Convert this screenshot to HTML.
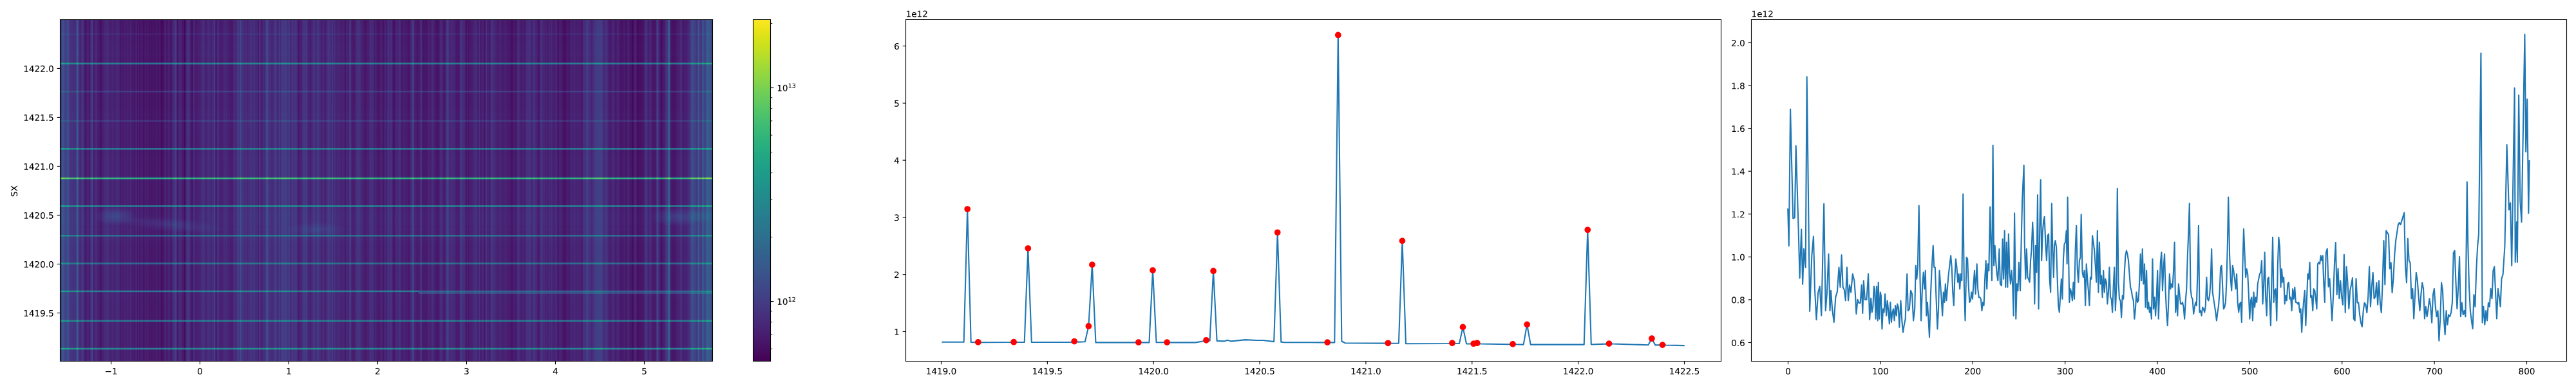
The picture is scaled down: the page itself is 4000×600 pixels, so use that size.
<!DOCTYPE html>
<html><head><meta charset="utf-8"><title>figure</title>
<style>
html,body{margin:0;padding:0;background:#fff}
#fig{position:relative;width:4000px;height:600px;overflow:hidden;background:#fff}
.hm{position:absolute;left:93px;top:30px;width:1014px;height:532px;filter:url(#vir);isolation:isolate;overflow:hidden}
.hm div{position:absolute;left:0;top:0;width:100%;height:100%}
.hm .r{mix-blend-mode:plus-lighter}
svg g[id^=text_] path{stroke:#000;stroke-width:0.06px;vector-effect:non-scaling-stroke}
.cb{position:absolute;left:1169px;top:30px;width:28px;height:532px;filter:url(#vir);background:linear-gradient(to top,#000,#fff)}
</style></head><body>
<svg width="0" height="0" style="position:absolute"><filter id="vir" color-interpolation-filters="sRGB" x="0" y="0" width="1" height="1"><feComponentTransfer>
<feFuncR type="table" tableValues="0.267 0.2685 0.2699 0.2713 0.2726 0.2738 0.275 0.276 0.277 0.2779 0.2788 0.2796 0.2803 0.2809 0.2814 0.2819 0.2823 0.2827 0.2829 0.2831 0.2832 0.2832 0.2832 0.2831 0.2829 0.2826 0.2823 0.2819 0.2814 0.2809 0.2803 0.2796 0.2788 0.278 0.2771 0.2762 0.2752 0.2741 0.273 0.2718 0.2706 0.2693 0.268 0.2666 0.2651 0.2637 0.2621 0.2606 0.259 0.2573 0.2556 0.2539 0.2522 0.2504 0.2486 0.2468 0.245 0.2431 0.2412 0.2393 0.2374 0.2355 0.2336 0.2317 0.2297 0.2278 0.2259 0.2239 0.222 0.2201 0.2181 0.2162 0.2143 0.2124 0.2105 0.2086 0.2068 0.2049 0.2031 0.2012 0.1994 0.1976 0.1959 0.1941 0.1924 0.1906 0.1889 0.1872 0.1856 0.1839 0.1823 0.1806 0.179 0.1774 0.1758 0.1743 0.1727 0.1712 0.1696 0.1681 0.1666 0.1651 0.1636 0.1621 0.1607 0.1592 0.1577 0.1563 0.1548 0.1534 0.1519 0.1505 0.149 0.1476 0.1462 0.1448 0.1433 0.1419 0.1405 0.1391 0.1378 0.1364 0.1351 0.1337 0.1324 0.1312 0.1299 0.1287 0.1276 0.1265 0.1254 0.1244 0.1235 0.1226 0.1218 0.1211 0.1206 0.1201 0.1197 0.1195 0.1194 0.1195 0.1197 0.1201 0.1206 0.1214 0.1223 0.1234 0.1248 0.1263 0.1281 0.1301 0.1323 0.1347 0.1373 0.1402 0.1433 0.1466 0.1501 0.1539 0.1579 0.162 0.1664 0.1709 0.1757 0.1807 0.1858 0.1911 0.1966 0.2022 0.208 0.214 0.2201 0.2264 0.2328 0.2394 0.2461 0.2529 0.2599 0.2669 0.2741 0.2815 0.2889 0.2965 0.3041 0.3119 0.3198 0.3278 0.3359 0.3441 0.3524 0.3607 0.3692 0.3778 0.3864 0.3952 0.404 0.4129 0.4219 0.431 0.4401 0.4494 0.4587 0.4681 0.4775 0.487 0.4966 0.5063 0.516 0.5258 0.5356 0.5455 0.5555 0.5655 0.5756 0.5857 0.5958 0.606 0.6163 0.6266 0.6369 0.6473 0.6576 0.6681 0.6785 0.6889 0.6994 0.7099 0.7204 0.7309 0.7414 0.7519 0.7624 0.7729 0.7833 0.7938 0.8042 0.8146 0.8249 0.8353 0.8456 0.8558 0.866 0.8762 0.8863 0.8963 0.9063 0.9162 0.9261 0.9359 0.9456 0.9553 0.9649 0.9744 0.9839 0.9932"/>
<feFuncG type="table" tableValues="0.004874 0.009605 0.01463 0.01994 0.02556 0.0315 0.03775 0.04417 0.05034 0.05632 0.06214 0.06784 0.07342 0.07891 0.08432 0.08967 0.09495 0.1002 0.1054 0.1106 0.1157 0.1208 0.1258 0.1309 0.1359 0.1409 0.1459 0.1509 0.1558 0.1608 0.1657 0.1706 0.1755 0.1804 0.1852 0.1901 0.1949 0.1997 0.2045 0.2093 0.2141 0.2188 0.2235 0.2283 0.233 0.2376 0.2423 0.2469 0.2515 0.2561 0.2607 0.2653 0.2698 0.2743 0.2788 0.2832 0.2877 0.2921 0.2965 0.3009 0.3052 0.3095 0.3138 0.3181 0.3224 0.3266 0.3308 0.335 0.3392 0.3433 0.3474 0.3515 0.3556 0.3597 0.3637 0.3678 0.3718 0.3757 0.3797 0.3837 0.3876 0.3915 0.3954 0.3993 0.4032 0.4071 0.4109 0.4147 0.4186 0.4224 0.4262 0.43 0.4338 0.4375 0.4413 0.445 0.4488 0.4525 0.4563 0.46 0.4637 0.4674 0.4711 0.4748 0.4785 0.4822 0.4859 0.4896 0.4933 0.497 0.5007 0.5044 0.5081 0.5117 0.5154 0.5191 0.5228 0.5265 0.5301 0.5338 0.5375 0.5412 0.5449 0.5485 0.5522 0.5559 0.5596 0.5633 0.5669 0.5706 0.5743 0.578 0.5817 0.5854 0.5891 0.5927 0.5964 0.6001 0.6038 0.6075 0.6111 0.6148 0.6185 0.6222 0.6258 0.6295 0.6332 0.6368 0.6405 0.6441 0.6477 0.6514 0.655 0.6586 0.6623 0.6659 0.6695 0.6731 0.6766 0.6802 0.6838 0.6873 0.6909 0.6944 0.6979 0.7014 0.7049 0.7084 0.7118 0.7153 0.7187 0.7221 0.7255 0.7289 0.7322 0.7356 0.7389 0.7422 0.7455 0.7488 0.752 0.7552 0.7584 0.7616 0.7647 0.7678 0.7709 0.774 0.777 0.78 0.783 0.786 0.7889 0.7918 0.7946 0.7975 0.8003 0.803 0.8058 0.8085 0.8111 0.8138 0.8164 0.8189 0.8214 0.8239 0.8264 0.8288 0.8312 0.8335 0.8358 0.838 0.8403 0.8424 0.8446 0.8467 0.8487 0.8507 0.8527 0.8546 0.8565 0.8584 0.8602 0.862 0.8637 0.8654 0.8671 0.8688 0.8703 0.8719 0.8734 0.875 0.8764 0.8779 0.8793 0.8807 0.882 0.8834 0.8847 0.886 0.8873 0.8886 0.8899 0.8911 0.8924 0.8936 0.8949 0.8961 0.8973 0.8986 0.8998 0.9011 0.9023 0.9036 0.9049 0.9062"/>
<feFuncB type="table" tableValues="0.3294 0.3354 0.3414 0.3473 0.3531 0.3589 0.3645 0.3702 0.3757 0.3812 0.3866 0.3919 0.3972 0.4023 0.4074 0.4124 0.4173 0.4222 0.4269 0.4316 0.4361 0.4406 0.445 0.4492 0.4534 0.4575 0.4615 0.4654 0.4692 0.4729 0.4765 0.48 0.4834 0.4867 0.4899 0.493 0.496 0.4989 0.5017 0.5044 0.5071 0.5096 0.512 0.5143 0.5166 0.5188 0.5208 0.5228 0.5247 0.5266 0.5283 0.53 0.5316 0.5331 0.5346 0.5359 0.5373 0.5385 0.5397 0.5408 0.5419 0.5429 0.5439 0.5448 0.5457 0.5465 0.5473 0.5481 0.5488 0.5494 0.55 0.5506 0.5512 0.5517 0.5522 0.5527 0.5531 0.5535 0.5539 0.5543 0.5546 0.555 0.5553 0.5556 0.5558 0.5561 0.5563 0.5565 0.5568 0.5569 0.5571 0.5573 0.5574 0.5576 0.5577 0.5578 0.5579 0.558 0.558 0.5581 0.5581 0.5581 0.5581 0.5581 0.5581 0.5581 0.558 0.5579 0.5578 0.5577 0.5576 0.5574 0.5573 0.557 0.5568 0.5566 0.5563 0.556 0.5557 0.5553 0.5549 0.5545 0.554 0.5535 0.553 0.5525 0.5519 0.5512 0.5506 0.5498 0.5491 0.5483 0.5474 0.5466 0.5456 0.5446 0.5436 0.5425 0.5414 0.5402 0.539 0.5377 0.5363 0.5349 0.5335 0.532 0.5304 0.5288 0.5271 0.5253 0.5235 0.5216 0.5197 0.5176 0.5156 0.5134 0.5112 0.5089 0.5066 0.5042 0.5017 0.4991 0.4965 0.4938 0.491 0.4882 0.4853 0.4823 0.4792 0.4761 0.4729 0.4696 0.4662 0.4628 0.4593 0.4557 0.452 0.4483 0.4445 0.4406 0.4366 0.4326 0.4284 0.4242 0.4199 0.4156 0.4112 0.4066 0.402 0.3974 0.3926 0.3878 0.3829 0.3779 0.3729 0.3678 0.3626 0.3573 0.3519 0.3465 0.341 0.3354 0.3297 0.324 0.3182 0.3123 0.3064 0.3004 0.2943 0.2881 0.2819 0.2756 0.2693 0.2629 0.2564 0.2499 0.2433 0.2367 0.2301 0.2234 0.2166 0.2099 0.2031 0.1963 0.1895 0.1827 0.176 0.1693 0.1626 0.156 0.1496 0.1432 0.1371 0.1311 0.1254 0.12 0.115 0.1103 0.1062 0.1026 0.0997 0.09745 0.09595 0.09525 0.09537 0.09634 0.09813 0.1007 0.1041 0.1081 0.1128 0.1181 0.1239 0.1302 0.1369 0.1439"/>
</feComponentTransfer></filter></svg>
<div id="fig">
<div class="hm"><div style="background:linear-gradient(90deg,#2d2d2d 0.88px,#2d2d2d 1.38px,#272727 2.14px,#272727 2.64px,#3c3c3c 3.40px,#3c3c3c 3.90px,#414141 4.66px,#414141 5.16px,#393939 5.92px,#393939 6.42px,#303030 7.18px,#303030 7.68px,#2c2c2c 8.44px,#2c2c2c 8.94px,#2c2c2c 9.70px,#2c2c2c 10.20px,#373737 10.96px,#373737 11.46px,#3a3a3a 12.22px,#3a3a3a 12.72px,#333333 13.48px,#333333 13.98px,#2b2b2b 14.74px,#2b2b2b 15.24px,#212121 16.00px,#212121 16.50px,#1d1d1d 17.26px,#1d1d1d 17.76px,#262626 18.52px,#262626 19.02px,#222222 19.78px,#222222 20.28px,#191919 21.04px,#191919 21.54px,#222222 22.30px,#222222 22.80px,#202020 23.56px,#202020 24.06px,#1f1f1f 24.82px,#1f1f1f 25.32px,#424242 26.08px,#424242 26.58px,#424242 27.34px,#424242 27.84px,#313131 28.60px,#313131 29.10px,#1a1a1a 29.86px,#1a1a1a 30.36px,#121212 31.12px,#121212 31.62px,#1b1b1b 32.38px,#1b1b1b 32.88px,#222222 33.64px,#222222 34.14px,#252525 34.90px,#252525 35.40px,#222222 36.16px,#222222 36.66px,#151515 37.42px,#151515 37.92px,#0e0e0e 38.68px,#0e0e0e 39.18px,#0b0b0b 39.94px,#0b0b0b 40.44px,#111111 41.20px,#111111 41.70px,#151515 42.46px,#151515 42.96px,#161616 43.72px,#161616 44.22px,#121212 44.98px,#121212 45.48px,#0b0b0b 46.24px,#0b0b0b 46.74px,#191919 47.50px,#191919 48.00px,#262626 48.76px,#262626 49.26px,#2e2e2e 50.02px,#2e2e2e 50.52px,#1b1b1b 51.28px,#1b1b1b 51.78px,#0e0e0e 52.54px,#0e0e0e 53.04px,#131313 53.80px,#131313 54.30px,#1b1b1b 55.06px,#1b1b1b 55.56px,#202020 56.32px,#202020 56.82px,#121212 57.58px,#121212 58.08px,#121212 58.84px,#121212 59.34px,#121212 60.10px,#121212 60.60px,#0d0d0d 61.36px,#0d0d0d 61.86px,#0a0a0a 62.62px,#0a0a0a 63.12px,#090909 63.88px,#090909 64.38px,#0f0f0f 65.14px,#0f0f0f 65.64px,#131313 66.40px,#131313 66.90px,#141414 67.66px,#141414 68.16px,#181818 68.92px,#181818 69.42px,#1d1d1d 70.18px,#1d1d1d 70.68px,#191919 71.44px,#191919 71.94px,#1a1a1a 72.70px,#1a1a1a 73.20px,#212121 73.96px,#212121 74.46px,#1a1a1a 75.22px,#1a1a1a 75.72px,#161616 76.47px,#161616 76.98px,#151515 77.73px,#151515 78.24px,#121212 78.99px,#121212 79.50px,#171717 80.25px,#171717 80.76px,#1b1b1b 81.51px,#1b1b1b 82.02px,#131313 82.77px,#131313 83.28px,#141414 84.03px,#141414 84.54px,#161616 85.29px,#161616 85.80px,#141414 86.55px,#141414 87.06px,#181818 87.81px,#181818 88.32px,#1b1b1b 89.07px,#1b1b1b 89.58px,#191919 90.33px,#191919 90.84px,#171717 91.59px,#171717 92.10px,#121212 92.85px,#121212 93.36px,#0c0c0c 94.11px,#0c0c0c 94.62px,#101010 95.37px,#101010 95.88px,#111111 96.63px,#111111 97.14px,#101010 97.89px,#101010 98.40px,#101010 99.15px,#101010 99.66px,#141414 100.41px,#141414 100.92px,#141414 101.67px,#141414 102.18px,#0f0f0f 102.93px,#0f0f0f 103.44px,#181818 104.19px,#181818 104.70px,#131313 105.45px,#131313 105.96px,#111111 106.71px,#111111 107.22px,#111111 107.97px,#111111 108.48px,#161616 109.23px,#161616 109.74px,#1a1a1a 110.49px,#1a1a1a 111.00px,#0d0d0d 111.75px,#0d0d0d 112.26px,#0d0d0d 113.01px,#0d0d0d 113.52px,#111111 114.27px,#111111 114.78px,#0c0c0c 115.53px,#0c0c0c 116.04px,#0f0f0f 116.79px,#0f0f0f 117.30px,#161616 118.05px,#161616 118.56px,#141414 119.31px,#141414 119.82px,#0a0a0a 120.57px,#0a0a0a 121.08px,#161616 121.83px,#161616 122.34px,#090909 123.09px,#090909 123.60px,#161616 124.35px,#161616 124.86px,#0a0a0a 125.61px,#0a0a0a 126.12px,#141414 126.87px,#141414 127.38px,#0f0f0f 128.13px,#0f0f0f 128.64px,#060606 129.39px,#060606 129.90px,#0d0d0d 130.65px,#0d0d0d 131.16px,#0c0c0c 131.91px,#0c0c0c 132.42px,#131313 133.17px,#131313 133.68px,#0e0e0e 134.43px,#0e0e0e 134.94px,#0e0e0e 135.69px,#0e0e0e 136.20px,#0f0f0f 136.95px,#0f0f0f 137.46px,#0b0b0b 138.21px,#0b0b0b 138.72px,#090909 139.47px,#090909 139.98px,#0f0f0f 140.73px,#0f0f0f 141.24px,#080808 141.99px,#080808 142.50px,#0c0c0c 143.25px,#0c0c0c 143.76px,#0d0d0d 144.51px,#0d0d0d 145.02px,#090909 145.77px,#090909 146.28px,#0d0d0d 147.03px,#0d0d0d 147.54px,#0c0c0c 148.29px,#0c0c0c 148.80px,#0e0e0e 149.55px,#0e0e0e 150.06px,#0f0f0f 150.81px,#0f0f0f 151.32px,#0a0a0a 152.07px,#0a0a0a 152.58px,#090909 153.33px,#090909 153.84px,#111111 154.59px,#111111 155.10px,#0b0b0b 155.85px,#0b0b0b 156.36px,#050505 157.11px,#050505 157.62px,#040404 158.37px,#040404 158.88px,#070707 159.63px,#070707 160.14px,#090909 160.89px,#090909 161.40px,#131313 162.15px,#131313 162.66px,#1a1a1a 163.41px,#1a1a1a 163.92px,#0d0d0d 164.67px,#0d0d0d 165.18px,#0d0d0d 165.93px,#0d0d0d 166.44px,#101010 167.19px,#101010 167.70px,#151515 168.45px,#151515 168.96px,#141414 169.71px,#141414 170.22px,#0e0e0e 170.97px,#0e0e0e 171.48px,#090909 172.23px,#090909 172.74px,#0d0d0d 173.49px,#0d0d0d 174.00px,#1a1a1a 174.75px,#1a1a1a 175.26px,#1b1b1b 176.01px,#1b1b1b 176.52px,#1c1c1c 177.27px,#1c1c1c 177.78px,#262626 178.53px,#262626 179.03px,#2b2b2b 179.79px,#2b2b2b 180.29px,#191919 181.05px,#191919 181.55px,#090909 182.31px,#090909 182.81px,#121212 183.57px,#121212 184.07px,#191919 184.83px,#191919 185.33px,#191919 186.09px,#191919 186.59px,#171717 187.35px,#171717 187.85px,#191919 188.61px,#191919 189.11px,#0b0b0b 189.87px,#0b0b0b 190.37px,#101010 191.13px,#101010 191.63px,#090909 192.39px,#090909 192.89px,#010101 193.65px,#010101 194.15px,#0d0d0d 194.91px,#0d0d0d 195.41px,#181818 196.17px,#181818 196.67px,#1f1f1f 197.43px,#1f1f1f 197.93px,#242424 198.69px,#242424 199.19px,#1e1e1e 199.95px,#1e1e1e 200.45px,#1d1d1d 201.21px,#1d1d1d 201.71px,#161616 202.47px,#161616 202.97px,#0c0c0c 203.73px,#0c0c0c 204.23px,#060606 204.99px,#060606 205.49px,#0f0f0f 206.25px,#0f0f0f 206.75px,#1c1c1c 207.51px,#1c1c1c 208.01px,#171717 208.77px,#171717 209.27px,#121212 210.03px,#121212 210.53px,#0c0c0c 211.29px,#0c0c0c 211.79px,#121212 212.55px,#121212 213.05px,#121212 213.81px,#121212 214.31px,#141414 215.07px,#141414 215.57px,#141414 216.33px,#141414 216.83px,#131313 217.59px,#131313 218.09px,#181818 218.85px,#181818 219.35px,#1b1b1b 220.11px,#1b1b1b 220.61px,#1e1e1e 221.37px,#1e1e1e 221.87px,#202020 222.63px,#202020 223.13px,#1e1e1e 223.89px,#1e1e1e 224.39px,#181818 225.15px,#181818 225.65px,#111111 226.41px,#111111 226.91px,#141414 227.67px,#141414 228.17px,#1c1c1c 228.93px,#1c1c1c 229.43px,#1f1f1f 230.19px,#1f1f1f 230.69px,#1c1c1c 231.45px,#1c1c1c 231.95px,#181818 232.71px,#181818 233.21px,#1a1a1a 233.97px,#1a1a1a 234.47px,#151515 235.23px,#151515 235.73px,#1b1b1b 236.49px,#1b1b1b 236.99px,#191919 237.75px,#191919 238.25px,#292929 239.01px,#292929 239.51px,#292929 240.27px,#292929 240.77px,#131313 241.53px,#131313 242.03px,#0b0b0b 242.79px,#0b0b0b 243.29px,#1c1c1c 244.05px,#1c1c1c 244.55px,#202020 245.31px,#202020 245.81px,#1b1b1b 246.57px,#1b1b1b 247.07px,#131313 247.83px,#131313 248.33px,#101010 249.09px,#101010 249.59px,#121212 250.35px,#121212 250.85px,#131313 251.61px,#131313 252.11px,#131313 252.87px,#131313 253.37px,#181818 254.13px,#181818 254.63px,#1c1c1c 255.39px,#1c1c1c 255.89px,#141414 256.65px,#141414 257.15px,#1b1b1b 257.91px,#1b1b1b 258.41px,#1a1a1a 259.17px,#1a1a1a 259.67px,#141414 260.43px,#141414 260.93px,#121212 261.69px,#121212 262.19px,#121212 262.95px,#121212 263.45px,#111111 264.21px,#111111 264.71px,#0d0d0d 265.47px,#0d0d0d 265.97px,#101010 266.73px,#101010 267.23px,#0f0f0f 267.99px,#0f0f0f 268.49px,#181818 269.25px,#181818 269.75px,#1e1e1e 270.51px,#1e1e1e 271.01px,#191919 271.77px,#191919 272.27px,#1b1b1b 273.03px,#1b1b1b 273.53px,#1d1d1d 274.29px,#1d1d1d 274.79px,#242424 275.55px,#242424 276.05px,#2d2d2d 276.81px,#2d2d2d 277.31px,#222222 278.07px,#222222 278.57px,#232323 279.33px,#232323 279.83px,#3a3a3a 280.59px,#3a3a3a 281.09px,#1e1e1e 281.85px,#1e1e1e 282.35px,#242424 283.11px,#242424 283.61px,#1f1f1f 284.37px,#1f1f1f 284.87px,#1c1c1c 285.63px,#1c1c1c 286.13px,#191919 286.89px,#191919 287.39px,#1e1e1e 288.15px,#1e1e1e 288.65px,#202020 289.41px,#202020 289.91px,#171717 290.67px,#171717 291.17px,#171717 291.93px,#171717 292.43px,#222222 293.19px,#222222 293.69px,#1e1e1e 294.45px,#1e1e1e 294.95px,#222222 295.71px,#222222 296.21px,#202020 296.97px,#202020 297.47px,#1c1c1c 298.23px,#1c1c1c 298.73px,#212121 299.49px,#212121 299.99px,#1b1b1b 300.75px,#1b1b1b 301.25px,#262626 302.01px,#262626 302.51px,#1b1b1b 303.27px,#1b1b1b 303.77px,#171717 304.53px,#171717 305.03px,#1c1c1c 305.79px,#1c1c1c 306.29px,#181818 307.05px,#181818 307.55px,#0e0e0e 308.31px,#0e0e0e 308.81px,#272727 309.57px,#272727 310.07px,#1e1e1e 310.83px,#1e1e1e 311.33px,#0c0c0c 312.09px,#0c0c0c 312.59px,#171717 313.35px,#171717 313.85px,#151515 314.61px,#151515 315.11px,#1f1f1f 315.87px,#1f1f1f 316.37px,#181818 317.13px,#181818 317.63px,#1d1d1d 318.39px,#1d1d1d 318.89px,#2a2a2a 319.65px,#2a2a2a 320.15px,#333333 320.91px,#333333 321.41px,#373737 322.17px,#373737 322.67px,#2a2a2a 323.43px,#2a2a2a 323.93px,#1c1c1c 324.69px,#1c1c1c 325.19px,#202020 325.95px,#202020 326.45px,#1e1e1e 327.21px,#1e1e1e 327.71px,#191919 328.47px,#191919 328.97px,#191919 329.72px,#191919 330.23px,#1b1b1b 330.98px,#1b1b1b 331.49px,#212121 332.24px,#212121 332.75px,#252525 333.50px,#252525 334.01px,#2a2a2a 334.76px,#2a2a2a 335.27px,#232323 336.02px,#232323 336.53px,#101010 337.28px,#101010 337.79px,#232323 338.54px,#232323 339.05px,#1d1d1d 339.80px,#1d1d1d 340.31px,#2d2d2d 341.06px,#2d2d2d 341.57px,#1c1c1c 342.32px,#1c1c1c 342.83px,#1e1e1e 343.58px,#1e1e1e 344.09px,#2f2f2f 344.84px,#2f2f2f 345.35px,#2d2d2d 346.10px,#2d2d2d 346.61px,#232323 347.36px,#232323 347.87px,#292929 348.62px,#292929 349.13px,#2c2c2c 349.88px,#2c2c2c 350.39px,#2b2b2b 351.14px,#2b2b2b 351.65px,#242424 352.40px,#242424 352.91px,#202020 353.66px,#202020 354.17px,#262626 354.92px,#262626 355.43px,#282828 356.18px,#282828 356.69px,#1d1d1d 357.44px,#1d1d1d 357.95px,#161616 358.70px,#161616 359.21px,#252525 359.96px,#252525 360.47px,#2a2a2a 361.22px,#2a2a2a 361.73px,#1f1f1f 362.48px,#1f1f1f 362.99px,#1f1f1f 363.74px,#1f1f1f 364.25px,#252525 365.00px,#252525 365.51px,#252525 366.26px,#252525 366.77px,#202020 367.52px,#202020 368.03px,#161616 368.78px,#161616 369.29px,#0e0e0e 370.04px,#0e0e0e 370.55px,#0d0d0d 371.30px,#0d0d0d 371.81px,#131313 372.56px,#131313 373.07px,#191919 373.82px,#191919 374.33px,#121212 375.08px,#121212 375.59px,#1e1e1e 376.34px,#1e1e1e 376.85px,#242424 377.60px,#242424 378.11px,#252525 378.86px,#252525 379.37px,#272727 380.12px,#272727 380.63px,#202020 381.38px,#202020 381.89px,#2e2e2e 382.64px,#2e2e2e 383.15px,#1e1e1e 383.90px,#1e1e1e 384.41px,#121212 385.16px,#121212 385.67px,#151515 386.42px,#151515 386.93px,#141414 387.68px,#141414 388.19px,#111111 388.94px,#111111 389.45px,#181818 390.20px,#181818 390.71px,#121212 391.46px,#121212 391.97px,#212121 392.72px,#212121 393.23px,#292929 393.98px,#292929 394.49px,#212121 395.24px,#212121 395.75px,#1a1a1a 396.50px,#1a1a1a 397.01px,#1c1c1c 397.76px,#1c1c1c 398.27px,#202020 399.02px,#202020 399.53px,#272727 400.28px,#272727 400.79px,#272727 401.54px,#272727 402.05px,#1b1b1b 402.80px,#1b1b1b 403.31px,#1a1a1a 404.06px,#1a1a1a 404.57px,#1b1b1b 405.32px,#1b1b1b 405.83px,#0f0f0f 406.58px,#0f0f0f 407.09px,#1d1d1d 407.84px,#1d1d1d 408.35px,#1a1a1a 409.10px,#1a1a1a 409.61px,#161616 410.36px,#161616 410.87px,#111111 411.62px,#111111 412.13px,#161616 412.88px,#161616 413.39px,#191919 414.14px,#191919 414.65px,#202020 415.40px,#202020 415.91px,#262626 416.66px,#262626 417.17px,#242424 417.92px,#242424 418.43px,#222222 419.18px,#222222 419.69px,#1d1d1d 420.44px,#1d1d1d 420.95px,#191919 421.70px,#191919 422.21px,#282828 422.96px,#282828 423.47px,#161616 424.22px,#161616 424.73px,#222222 425.48px,#222222 425.99px,#1b1b1b 426.74px,#1b1b1b 427.25px,#191919 428.00px,#191919 428.51px,#161616 429.26px,#161616 429.77px,#171717 430.52px,#171717 431.03px,#191919 431.78px,#191919 432.28px,#161616 433.04px,#161616 433.54px,#191919 434.30px,#191919 434.80px,#161616 435.56px,#161616 436.06px,#101010 436.82px,#101010 437.32px,#151515 438.08px,#151515 438.58px,#1d1d1d 439.34px,#1d1d1d 439.84px,#131313 440.60px,#131313 441.10px,#121212 441.86px,#121212 442.36px,#0d0d0d 443.12px,#0d0d0d 443.62px,#131313 444.38px,#131313 444.88px,#1b1b1b 445.64px,#1b1b1b 446.14px,#151515 446.90px,#151515 447.40px,#111111 448.16px,#111111 448.66px,#232323 449.42px,#232323 449.92px,#2c2c2c 450.68px,#2c2c2c 451.18px,#171717 451.94px,#171717 452.44px,#111111 453.20px,#111111 453.70px,#111111 454.46px,#111111 454.96px,#0a0a0a 455.72px,#0a0a0a 456.22px,#121212 456.98px,#121212 457.48px,#121212 458.24px,#121212 458.74px,#191919 459.50px,#191919 460.00px,#1f1f1f 460.76px,#1f1f1f 461.26px,#222222 462.02px,#222222 462.52px,#222222 463.28px,#222222 463.78px,#212121 464.54px,#212121 465.04px,#1e1e1e 465.80px,#1e1e1e 466.30px,#1a1a1a 467.06px,#1a1a1a 467.56px,#161616 468.32px,#161616 468.82px,#151515 469.58px,#151515 470.08px,#121212 470.84px,#121212 471.34px,#111111 472.10px,#111111 472.60px,#0a0a0a 473.36px,#0a0a0a 473.86px,#0c0c0c 474.62px,#0c0c0c 475.12px,#121212 475.88px,#121212 476.38px,#121212 477.14px,#121212 477.64px,#111111 478.40px,#111111 478.90px,#141414 479.66px,#141414 480.16px,#1c1c1c 480.92px,#1c1c1c 481.42px,#1f1f1f 482.18px,#1f1f1f 482.68px,#1b1b1b 483.44px,#1b1b1b 483.94px,#212121 484.70px,#212121 485.20px,#181818 485.96px,#181818 486.46px,#1c1c1c 487.22px,#1c1c1c 487.72px,#101010 488.48px,#101010 488.98px,#191919 489.74px,#191919 490.24px,#121212 491.00px,#121212 491.50px,#0f0f0f 492.26px,#0f0f0f 492.76px,#0e0e0e 493.52px,#0e0e0e 494.02px,#0d0d0d 494.78px,#0d0d0d 495.28px,#0c0c0c 496.04px,#0c0c0c 496.54px,#111111 497.30px,#111111 497.80px,#1c1c1c 498.56px,#1c1c1c 499.06px,#0e0e0e 499.82px,#0e0e0e 500.32px,#111111 501.08px,#111111 501.58px,#0b0b0b 502.34px,#0b0b0b 502.84px,#121212 503.60px,#121212 504.10px,#1b1b1b 504.86px,#1b1b1b 505.36px,#0d0d0d 506.12px,#0d0d0d 506.62px,#121212 507.38px,#121212 507.88px,#1c1c1c 508.64px,#1c1c1c 509.14px,#212121 509.90px,#212121 510.40px,#1c1c1c 511.16px,#1c1c1c 511.66px,#181818 512.42px,#181818 512.92px,#1f1f1f 513.68px,#1f1f1f 514.18px,#1f1f1f 514.94px,#1f1f1f 515.44px,#131313 516.20px,#131313 516.70px,#0b0b0b 517.46px,#0b0b0b 517.96px,#060606 518.72px,#060606 519.22px,#101010 519.98px,#101010 520.48px,#191919 521.24px,#191919 521.74px,#171717 522.50px,#171717 523.00px,#171717 523.76px,#171717 524.26px,#171717 525.02px,#171717 525.52px,#191919 526.28px,#191919 526.78px,#212121 527.54px,#212121 528.04px,#1c1c1c 528.80px,#1c1c1c 529.30px,#0e0e0e 530.06px,#0e0e0e 530.56px,#111111 531.32px,#111111 531.82px,#0d0d0d 532.58px,#0d0d0d 533.08px,#171717 533.84px,#171717 534.34px,#131313 535.10px,#131313 535.60px,#101010 536.36px,#101010 536.86px,#0f0f0f 537.62px,#0f0f0f 538.12px,#101010 538.88px,#101010 539.38px,#0f0f0f 540.14px,#0f0f0f 540.64px,#0b0b0b 541.40px,#0b0b0b 541.90px,#0d0d0d 542.66px,#0d0d0d 543.16px,#131313 543.92px,#131313 544.42px,#1a1a1a 545.18px,#1a1a1a 545.68px,#232323 546.44px,#232323 546.94px,#2a2a2a 547.70px,#2a2a2a 548.20px,#2b2b2b 548.96px,#2b2b2b 549.46px,#151515 550.22px,#151515 550.72px,#121212 551.48px,#121212 551.98px,#121212 552.74px,#121212 553.24px,#0c0c0c 554.00px,#0c0c0c 554.50px,#0d0d0d 555.26px,#0d0d0d 555.76px,#0f0f0f 556.52px,#0f0f0f 557.02px,#0f0f0f 557.78px,#0f0f0f 558.28px,#151515 559.04px,#151515 559.54px,#222222 560.30px,#222222 560.80px,#202020 561.56px,#202020 562.06px,#0c0c0c 562.82px,#0c0c0c 563.32px,#0c0c0c 564.08px,#0c0c0c 564.58px,#0b0b0b 565.34px,#0b0b0b 565.84px,#0e0e0e 566.60px,#0e0e0e 567.10px,#0d0d0d 567.86px,#0d0d0d 568.36px,#0c0c0c 569.12px,#0c0c0c 569.62px,#0e0e0e 570.38px,#0e0e0e 570.88px,#171717 571.64px,#171717 572.14px,#141414 572.90px,#141414 573.40px,#111111 574.16px,#111111 574.66px,#121212 575.42px,#121212 575.92px,#151515 576.68px,#151515 577.18px,#1c1c1c 577.94px,#1c1c1c 578.44px,#1f1f1f 579.20px,#1f1f1f 579.70px,#141414 580.46px,#141414 580.96px,#111111 581.72px,#111111 582.22px,#0f0f0f 582.97px,#0f0f0f 583.48px,#0c0c0c 584.23px,#0c0c0c 584.74px,#090909 585.49px,#090909 586.00px,#0b0b0b 586.75px,#0b0b0b 587.26px,#0e0e0e 588.01px,#0e0e0e 588.52px,#121212 589.27px,#121212 589.78px,#1a1a1a 590.53px,#1a1a1a 591.04px,#1d1d1d 591.79px,#1d1d1d 592.30px,#1b1b1b 593.05px,#1b1b1b 593.56px,#131313 594.31px,#131313 594.82px,#0e0e0e 595.57px,#0e0e0e 596.08px,#0e0e0e 596.83px,#0e0e0e 597.34px,#111111 598.09px,#111111 598.60px,#191919 599.35px,#191919 599.86px,#252525 600.61px,#252525 601.12px,#303030 601.87px,#303030 602.38px,#242424 603.13px,#242424 603.64px,#1b1b1b 604.39px,#1b1b1b 604.90px,#161616 605.65px,#161616 606.16px,#1a1a1a 606.91px,#1a1a1a 607.42px,#1d1d1d 608.17px,#1d1d1d 608.68px,#1b1b1b 609.43px,#1b1b1b 609.94px,#181818 610.69px,#181818 611.20px,#171717 611.95px,#171717 612.46px,#1a1a1a 613.21px,#1a1a1a 613.72px,#101010 614.47px,#101010 614.98px,#0c0c0c 615.73px,#0c0c0c 616.24px,#0f0f0f 616.99px,#0f0f0f 617.50px,#101010 618.25px,#101010 618.76px,#0a0a0a 619.51px,#0a0a0a 620.02px,#171717 620.77px,#171717 621.28px,#252525 622.03px,#252525 622.54px,#262626 623.29px,#262626 623.80px,#1f1f1f 624.55px,#1f1f1f 625.06px,#1b1b1b 625.81px,#1b1b1b 626.32px,#1c1c1c 627.07px,#1c1c1c 627.58px,#1a1a1a 628.33px,#1a1a1a 628.84px,#121212 629.59px,#121212 630.10px,#090909 630.85px,#090909 631.36px,#111111 632.11px,#111111 632.62px,#121212 633.37px,#121212 633.88px,#0a0a0a 634.63px,#0a0a0a 635.14px,#111111 635.89px,#111111 636.40px,#101010 637.15px,#101010 637.66px,#101010 638.41px,#101010 638.92px,#111111 639.67px,#111111 640.18px,#131313 640.93px,#131313 641.44px,#181818 642.19px,#181818 642.70px,#1a1a1a 643.45px,#1a1a1a 643.96px,#1b1b1b 644.71px,#1b1b1b 645.22px,#1c1c1c 645.97px,#1c1c1c 646.48px,#1f1f1f 647.23px,#1f1f1f 647.74px,#101010 648.49px,#101010 649.00px,#161616 649.75px,#161616 650.26px,#202020 651.01px,#202020 651.52px,#171717 652.27px,#171717 652.78px,#0d0d0d 653.53px,#0d0d0d 654.04px,#131313 654.79px,#131313 655.30px,#191919 656.05px,#191919 656.56px,#161616 657.31px,#161616 657.82px,#0d0d0d 658.57px,#0d0d0d 659.08px,#0b0b0b 659.83px,#0b0b0b 660.34px,#1c1c1c 661.09px,#1c1c1c 661.60px,#252525 662.35px,#252525 662.86px,#101010 663.61px,#101010 664.12px,#151515 664.87px,#151515 665.38px,#151515 666.13px,#151515 666.64px,#0b0b0b 667.39px,#0b0b0b 667.90px,#181818 668.65px,#181818 669.16px,#242424 669.91px,#242424 670.42px,#252525 671.17px,#252525 671.68px,#1e1e1e 672.43px,#1e1e1e 672.94px,#191919 673.69px,#191919 674.20px,#1b1b1b 674.95px,#1b1b1b 675.46px,#181818 676.21px,#181818 676.72px,#181818 677.47px,#181818 677.98px,#101010 678.73px,#101010 679.24px,#131313 679.99px,#131313 680.50px,#111111 681.25px,#111111 681.76px,#161616 682.51px,#161616 683.02px,#181818 683.77px,#181818 684.27px,#131313 685.03px,#131313 685.53px,#121212 686.29px,#121212 686.79px,#0f0f0f 687.55px,#0f0f0f 688.05px,#111111 688.81px,#111111 689.31px,#141414 690.07px,#141414 690.57px,#131313 691.33px,#131313 691.83px,#151515 692.59px,#151515 693.09px,#101010 693.85px,#101010 694.35px,#101010 695.11px,#101010 695.61px,#0f0f0f 696.37px,#0f0f0f 696.87px,#101010 697.63px,#101010 698.13px,#0d0d0d 698.89px,#0d0d0d 699.39px,#0d0d0d 700.15px,#0d0d0d 700.65px,#060606 701.41px,#060606 701.91px,#080808 702.67px,#080808 703.17px,#0f0f0f 703.93px,#0f0f0f 704.43px,#131313 705.19px,#131313 705.69px,#0f0f0f 706.45px,#0f0f0f 706.95px,#090909 707.71px,#090909 708.21px,#131313 708.97px,#131313 709.47px,#1b1b1b 710.23px,#1b1b1b 710.73px,#1a1a1a 711.49px,#1a1a1a 711.99px,#1f1f1f 712.75px,#1f1f1f 713.25px,#131313 714.01px,#131313 714.51px,#131313 715.27px,#131313 715.77px,#0e0e0e 716.53px,#0e0e0e 717.03px,#131313 717.79px,#131313 718.29px,#151515 719.05px,#151515 719.55px,#131313 720.31px,#131313 720.81px,#101010 721.57px,#101010 722.07px,#141414 722.83px,#141414 723.33px,#1e1e1e 724.09px,#1e1e1e 724.59px,#1f1f1f 725.35px,#1f1f1f 725.85px,#1f1f1f 726.61px,#1f1f1f 727.11px,#212121 727.87px,#212121 728.37px,#1f1f1f 729.13px,#1f1f1f 729.63px,#212121 730.39px,#212121 730.89px,#191919 731.65px,#191919 732.15px,#121212 732.91px,#121212 733.41px,#1c1c1c 734.17px,#1c1c1c 734.67px,#222222 735.43px,#222222 735.93px,#232323 736.69px,#232323 737.19px,#191919 737.95px,#191919 738.45px,#181818 739.21px,#181818 739.71px,#171717 740.47px,#171717 740.97px,#111111 741.73px,#111111 742.23px,#090909 742.99px,#090909 743.49px,#0f0f0f 744.25px,#0f0f0f 744.75px,#181818 745.51px,#181818 746.01px,#1f1f1f 746.77px,#1f1f1f 747.27px,#252525 748.03px,#252525 748.53px,#191919 749.29px,#191919 749.79px,#181818 750.55px,#181818 751.05px,#1a1a1a 751.81px,#1a1a1a 752.31px,#121212 753.07px,#121212 753.57px,#171717 754.33px,#171717 754.83px,#151515 755.59px,#151515 756.09px,#111111 756.85px,#111111 757.35px,#111111 758.11px,#111111 758.61px,#1f1f1f 759.37px,#1f1f1f 759.87px,#151515 760.63px,#151515 761.13px,#131313 761.89px,#131313 762.39px,#1d1d1d 763.15px,#1d1d1d 763.65px,#181818 764.41px,#181818 764.91px,#111111 765.67px,#111111 766.17px,#111111 766.93px,#111111 767.43px,#151515 768.19px,#151515 768.69px,#171717 769.45px,#171717 769.95px,#191919 770.71px,#191919 771.21px,#111111 771.97px,#111111 772.47px,#090909 773.23px,#090909 773.73px,#0a0a0a 774.49px,#0a0a0a 774.99px,#171717 775.75px,#171717 776.25px,#141414 777.01px,#141414 777.51px,#101010 778.27px,#101010 778.77px,#0f0f0f 779.53px,#0f0f0f 780.03px,#0b0b0b 780.79px,#0b0b0b 781.29px,#080808 782.05px,#080808 782.55px,#060606 783.31px,#060606 783.81px,#070707 784.57px,#070707 785.07px,#0d0d0d 785.83px,#0d0d0d 786.33px,#0f0f0f 787.09px,#0f0f0f 787.59px,#101010 788.35px,#101010 788.85px,#0e0e0e 789.61px,#0e0e0e 790.11px,#0c0c0c 790.87px,#0c0c0c 791.37px,#111111 792.13px,#111111 792.63px,#191919 793.39px,#191919 793.89px,#181818 794.65px,#181818 795.15px,#0f0f0f 795.91px,#0f0f0f 796.41px,#161616 797.17px,#161616 797.67px,#1a1a1a 798.43px,#1a1a1a 798.93px,#171717 799.69px,#171717 800.19px,#121212 800.95px,#121212 801.45px,#121212 802.21px,#121212 802.71px,#161616 803.47px,#161616 803.97px,#141414 804.73px,#141414 805.23px,#121212 805.99px,#121212 806.49px,#181818 807.25px,#181818 807.75px,#121212 808.51px,#121212 809.01px,#0e0e0e 809.77px,#0e0e0e 810.27px,#101010 811.03px,#101010 811.53px,#191919 812.29px,#191919 812.79px,#242424 813.55px,#242424 814.05px,#1d1d1d 814.81px,#1d1d1d 815.31px,#1f1f1f 816.07px,#1f1f1f 816.57px,#292929 817.33px,#292929 817.83px,#282828 818.59px,#282828 819.09px,#282828 819.85px,#282828 820.35px,#222222 821.11px,#222222 821.61px,#1d1d1d 822.37px,#1d1d1d 822.87px,#1f1f1f 823.63px,#1f1f1f 824.13px,#161616 824.89px,#161616 825.39px,#171717 826.15px,#171717 826.65px,#1c1c1c 827.41px,#1c1c1c 827.91px,#222222 828.67px,#222222 829.17px,#252525 829.93px,#252525 830.43px,#272727 831.19px,#272727 831.69px,#292929 832.45px,#292929 832.95px,#2a2a2a 833.71px,#2a2a2a 834.21px,#2b2b2b 834.97px,#2b2b2b 835.47px,#2b2b2b 836.22px,#2b2b2b 836.73px,#2b2b2b 837.48px,#2b2b2b 837.99px,#2c2c2c 838.74px,#2c2c2c 839.25px,#2d2d2d 840.00px,#2d2d2d 840.51px,#2d2d2d 841.26px,#2d2d2d 841.77px,#252525 842.52px,#252525 843.03px,#1c1c1c 843.78px,#1c1c1c 844.29px,#191919 845.04px,#191919 845.55px,#242424 846.30px,#242424 846.81px,#222222 847.56px,#222222 848.07px,#1f1f1f 848.82px,#1f1f1f 849.33px,#1d1d1d 850.08px,#1d1d1d 850.59px,#131313 851.34px,#131313 851.85px,#141414 852.60px,#141414 853.11px,#101010 853.86px,#101010 854.37px,#0b0b0b 855.12px,#0b0b0b 855.63px,#131313 856.38px,#131313 856.89px,#191919 857.64px,#191919 858.15px,#1a1a1a 858.90px,#1a1a1a 859.41px,#171717 860.16px,#171717 860.67px,#121212 861.42px,#121212 861.93px,#0e0e0e 862.68px,#0e0e0e 863.19px,#111111 863.94px,#111111 864.45px,#151515 865.20px,#151515 865.71px,#171717 866.46px,#171717 866.97px,#161616 867.72px,#161616 868.23px,#0d0d0d 868.98px,#0d0d0d 869.49px,#0c0c0c 870.24px,#0c0c0c 870.75px,#0d0d0d 871.50px,#0d0d0d 872.01px,#0a0a0a 872.76px,#0a0a0a 873.27px,#0d0d0d 874.02px,#0d0d0d 874.53px,#101010 875.28px,#101010 875.79px,#111111 876.54px,#111111 877.05px,#0e0e0e 877.80px,#0e0e0e 878.31px,#080808 879.06px,#080808 879.57px,#0f0f0f 880.32px,#0f0f0f 880.83px,#141414 881.58px,#141414 882.09px,#151515 882.84px,#151515 883.35px,#0f0f0f 884.10px,#0f0f0f 884.61px,#0b0b0b 885.36px,#0b0b0b 885.87px,#0b0b0b 886.62px,#0b0b0b 887.13px,#0a0a0a 887.88px,#0a0a0a 888.39px,#000000 889.14px,#000000 889.65px,#060606 890.40px,#060606 890.91px,#111111 891.66px,#111111 892.17px,#171717 892.92px,#171717 893.43px,#141414 894.18px,#141414 894.69px,#0b0b0b 895.44px,#0b0b0b 895.95px,#050505 896.70px,#050505 897.21px,#060606 897.96px,#060606 898.47px,#0c0c0c 899.22px,#0c0c0c 899.73px,#070707 900.48px,#070707 900.99px,#090909 901.74px,#090909 902.25px,#0a0a0a 903.00px,#0a0a0a 903.51px,#0a0a0a 904.26px,#0a0a0a 904.77px,#0c0c0c 905.52px,#0c0c0c 906.03px,#0f0f0f 906.78px,#0f0f0f 907.29px,#191919 908.04px,#191919 908.55px,#222222 909.30px,#222222 909.81px,#222222 910.56px,#222222 911.07px,#1a1a1a 911.82px,#1a1a1a 912.33px,#121212 913.08px,#121212 913.59px,#111111 914.34px,#111111 914.85px,#171717 915.60px,#171717 916.11px,#1f1f1f 916.86px,#1f1f1f 917.37px,#131313 918.12px,#131313 918.63px,#0c0c0c 919.38px,#0c0c0c 919.89px,#0f0f0f 920.64px,#0f0f0f 921.15px,#0b0b0b 921.90px,#0b0b0b 922.41px,#0c0c0c 923.16px,#0c0c0c 923.67px,#0b0b0b 924.42px,#0b0b0b 924.93px,#151515 925.68px,#151515 926.19px,#2e2e2e 926.94px,#2e2e2e 927.45px,#2b2b2b 928.20px,#2b2b2b 928.71px,#1d1d1d 929.46px,#1d1d1d 929.97px,#131313 930.72px,#131313 931.23px,#0c0c0c 931.98px,#0c0c0c 932.49px,#090909 933.24px,#090909 933.75px,#060606 934.50px,#060606 935.01px,#0a0a0a 935.76px,#0a0a0a 936.27px,#121212 937.02px,#121212 937.52px,#0f0f0f 938.28px,#0f0f0f 938.78px,#181818 939.54px,#181818 940.04px,#202020 940.80px,#202020 941.30px,#252525 942.06px,#252525 942.56px,#272727 943.32px,#272727 943.82px,#3b3b3b 944.58px,#3b3b3b 945.08px,#4a4a4a 945.84px,#4a4a4a 946.34px,#3b3b3b 947.10px,#3b3b3b 947.60px,#080808 948.36px,#080808 948.86px,#0d0d0d 949.62px,#0d0d0d 950.12px,#0a0a0a 950.88px,#0a0a0a 951.38px,#090909 952.14px,#090909 952.64px,#0c0c0c 953.40px,#0c0c0c 953.90px,#090909 954.66px,#090909 955.16px,#0e0e0e 955.92px,#0e0e0e 956.42px,#0f0f0f 957.18px,#0f0f0f 957.68px,#101010 958.44px,#101010 958.94px,#151515 959.70px,#151515 960.20px,#131313 960.96px,#131313 961.46px,#171717 962.22px,#171717 962.72px,#1c1c1c 963.48px,#1c1c1c 963.98px,#1d1d1d 964.74px,#1d1d1d 965.24px,#161616 966.00px,#161616 966.50px,#0e0e0e 967.26px,#0e0e0e 967.76px,#0e0e0e 968.52px,#0e0e0e 969.02px,#151515 969.78px,#151515 970.28px,#131313 971.04px,#131313 971.54px,#101010 972.30px,#101010 972.80px,#131313 973.56px,#131313 974.06px,#191919 974.82px,#191919 975.32px,#1a1a1a 976.08px,#1a1a1a 976.58px,#1e1e1e 977.34px,#1e1e1e 977.84px,#232323 978.60px,#232323 979.10px,#2e2e2e 979.86px,#2e2e2e 980.36px,#393939 981.12px,#393939 981.62px,#3a3a3a 982.38px,#3a3a3a 982.88px,#343434 983.64px,#343434 984.14px,#2f2f2f 984.90px,#2f2f2f 985.40px,#303030 986.16px,#303030 986.66px,#282828 987.42px,#282828 987.92px,#222222 988.68px,#222222 989.18px,#333333 989.94px,#333333 990.44px,#404040 991.20px,#404040 991.70px,#414141 992.46px,#414141 992.96px,#222222 993.72px,#222222 994.22px,#2a2a2a 994.98px,#2a2a2a 995.48px,#252525 996.24px,#252525 996.74px,#404040 997.50px,#404040 998.00px,#3f3f3f 998.76px,#3f3f3f 999.26px,#303030 1000.02px,#303030 1000.52px,#2d2d2d 1001.28px,#2d2d2d 1001.78px,#333333 1002.54px,#333333 1003.04px,#404040 1003.80px,#404040 1004.30px,#4a4a4a 1005.06px,#4a4a4a 1005.56px,#505050 1006.32px,#505050 1006.82px,#3e3e3e 1007.58px,#3e3e3e 1008.08px,#434343 1008.84px,#434343 1009.34px,#3f3f3f 1010.10px,#3f3f3f 1010.60px,#2e2e2e 1011.36px,#2e2e2e 1011.86px,#3a3a3a 1012.62px,#3a3a3a 1013.12px)"></div><div class="r" style="width:557px;background:linear-gradient(180deg,#000000 -0.70px,#000000 0.95px,#000000 1.85px,#000000 3.50px,#000000 4.40px,#000000 6.04px,#000000 6.94px,#000000 8.59px,#000000 9.49px,#000000 11.14px,#010101 12.04px,#010101 13.68px,#010101 14.58px,#010101 16.23px,#010101 17.13px,#010101 18.78px,#010101 19.68px,#010101 21.32px,#0a0a0a 22.22px,#0a0a0a 23.87px,#010101 24.77px,#010101 26.42px,#010101 27.32px,#010101 28.96px,#010101 29.86px,#010101 31.51px,#010101 32.41px,#010101 34.06px,#020202 34.96px,#020202 36.60px,#020202 37.50px,#020202 39.15px,#020202 40.05px,#020202 41.70px,#020202 42.60px,#020202 44.25px,#020202 45.15px,#020202 46.79px,#020202 47.69px,#020202 49.34px,#030303 50.24px,#030303 51.89px,#030303 52.79px,#030303 54.43px,#030303 55.33px,#030303 56.98px,#020202 57.88px,#020202 59.53px,#020202 60.43px,#020202 62.07px,#020202 62.97px,#020202 64.62px,#020202 65.52px,#020202 67.17px,#5a5a5a 68.07px,#5a5a5a 69.71px,#020202 70.61px,#020202 72.26px,#020202 73.16px,#020202 74.81px,#020202 75.71px,#020202 77.36px,#020202 78.26px,#020202 79.90px,#020202 80.80px,#020202 82.45px,#020202 83.35px,#020202 85.00px,#020202 85.90px,#020202 87.54px,#020202 88.44px,#020202 90.09px,#020202 90.99px,#020202 92.64px,#020202 93.54px,#020202 95.18px,#020202 96.08px,#020202 97.73px,#020202 98.63px,#020202 100.28px,#020202 101.18px,#020202 102.82px,#020202 103.72px,#020202 105.37px,#020202 106.27px,#020202 107.92px,#020202 108.82px,#020202 110.46px,#1b1b1b 111.36px,#1b1b1b 113.01px,#020202 113.91px,#020202 115.56px,#020202 116.46px,#020202 118.11px,#020202 119.01px,#020202 120.65px,#020202 121.55px,#020202 123.20px,#020202 124.10px,#020202 125.75px,#020202 126.65px,#020202 128.29px,#020202 129.19px,#020202 130.84px,#020202 131.74px,#020202 133.39px,#020202 134.29px,#020202 135.93px,#020202 136.83px,#020202 138.48px,#020202 139.38px,#020202 141.03px,#030303 141.93px,#030303 143.57px,#030303 144.47px,#030303 146.12px,#040404 147.02px,#040404 148.67px,#030303 149.57px,#030303 151.22px,#030303 152.12px,#030303 153.76px,#030303 154.66px,#030303 156.31px,#191919 157.21px,#191919 158.86px,#030303 159.76px,#030303 161.40px,#030303 162.30px,#030303 163.95px,#040404 164.85px,#040404 166.50px,#030303 167.40px,#030303 169.04px,#030303 169.94px,#030303 171.59px,#030303 172.49px,#030303 174.14px,#030303 175.04px,#030303 176.68px,#030303 177.58px,#030303 179.23px,#030303 180.13px,#030303 181.78px,#030303 182.68px,#030303 184.33px,#030303 185.23px,#030303 186.87px,#030303 187.77px,#030303 189.42px,#030303 190.32px,#030303 191.97px,#030303 192.87px,#030303 194.51px,#030303 195.41px,#030303 197.06px,#030303 197.96px,#030303 199.61px,#555555 200.51px,#555555 202.15px,#030303 203.05px,#030303 204.70px,#030303 205.60px,#030303 207.25px,#030303 208.15px,#030303 209.79px,#040404 210.69px,#040404 212.34px,#040404 213.24px,#040404 214.89px,#040404 215.79px,#040404 217.43px,#040404 218.33px,#040404 219.98px,#040404 220.88px,#040404 222.53px,#040404 223.43px,#040404 225.08px,#040404 225.98px,#040404 227.62px,#040404 228.52px,#040404 230.17px,#040404 231.07px,#040404 232.72px,#040404 233.62px,#040404 235.26px,#040404 236.16px,#040404 237.81px,#040404 238.71px,#040404 240.36px,#040404 241.26px,#040404 242.90px,#060606 243.80px,#060606 245.45px,#929292 246.35px,#929292 248.00px,#050505 248.90px,#050505 250.54px,#050505 251.44px,#050505 253.09px,#050505 253.99px,#050505 255.64px,#050505 256.54px,#050505 258.19px,#050505 259.09px,#050505 260.73px,#050505 261.63px,#050505 263.28px,#050505 264.18px,#050505 265.83px,#050505 266.73px,#050505 268.37px,#050505 269.27px,#050505 270.92px,#050505 271.82px,#050505 273.47px,#050505 274.37px,#050505 276.01px,#050505 276.91px,#050505 278.56px,#050505 279.46px,#050505 281.11px,#050505 282.01px,#050505 283.65px,#050505 284.55px,#050505 286.20px,#050505 287.10px,#050505 288.75px,#595959 289.65px,#595959 291.29px,#060606 292.19px,#060606 293.84px,#070707 294.74px,#070707 296.39px,#070707 297.29px,#070707 298.94px,#080808 299.84px,#080808 301.48px,#080808 302.38px,#080808 304.03px,#080808 304.93px,#080808 306.58px,#080808 307.48px,#080808 309.12px,#080808 310.02px,#080808 311.67px,#090909 312.57px,#090909 314.22px,#080808 315.12px,#080808 316.76px,#080808 317.66px,#080808 319.31px,#070707 320.21px,#070707 321.86px,#070707 322.76px,#070707 324.40px,#080808 325.30px,#080808 326.95px,#070707 327.85px,#070707 329.50px,#070707 330.40px,#070707 332.05px,#070707 332.95px,#070707 334.59px,#454545 335.49px,#454545 337.14px,#070707 338.04px,#070707 339.69px,#080808 340.59px,#080808 342.23px,#060606 343.13px,#060606 344.78px,#060606 345.68px,#060606 347.33px,#050505 348.23px,#050505 349.87px,#050505 350.77px,#050505 352.42px,#050505 353.32px,#050505 354.97px,#050505 355.87px,#050505 357.51px,#050505 358.41px,#050505 360.06px,#050505 360.96px,#050505 362.61px,#050505 363.51px,#050505 365.15px,#050505 366.05px,#050505 367.70px,#050505 368.60px,#050505 370.25px,#050505 371.15px,#050505 372.80px,#050505 373.70px,#050505 375.34px,#050505 376.24px,#050505 377.89px,#464646 378.79px,#464646 380.44px,#050505 381.34px,#050505 382.98px,#050505 383.88px,#050505 385.53px,#050505 386.43px,#050505 388.08px,#050505 388.98px,#050505 390.62px,#050505 391.52px,#050505 393.17px,#050505 394.07px,#050505 395.72px,#050505 396.62px,#050505 398.26px,#050505 399.16px,#050505 400.81px,#050505 401.71px,#050505 403.36px,#050505 404.26px,#050505 405.91px,#050505 406.81px,#050505 408.45px,#050505 409.35px,#050505 411.00px,#050505 411.90px,#050505 413.55px,#050505 414.45px,#050505 416.09px,#050505 416.99px,#050505 418.64px,#050505 419.54px,#050505 421.19px,#595959 422.09px,#595959 423.73px,#040404 424.63px,#040404 426.28px,#060606 427.18px,#060606 428.83px,#060606 429.73px,#060606 431.37px,#050505 432.27px,#050505 433.92px,#060606 434.82px,#060606 436.47px,#050505 437.37px,#050505 439.02px,#050505 439.92px,#050505 441.56px,#050505 442.46px,#050505 444.11px,#050505 445.01px,#050505 446.66px,#050505 447.56px,#050505 449.20px,#050505 450.10px,#050505 451.75px,#050505 452.65px,#050505 454.30px,#050505 455.20px,#050505 456.84px,#050505 457.74px,#050505 459.39px,#050505 460.29px,#050505 461.94px,#050505 462.84px,#050505 464.48px,#050505 465.38px,#050505 467.03px,#525252 467.93px,#525252 469.58px,#050505 470.48px,#050505 472.12px,#050505 473.02px,#050505 474.67px,#050505 475.57px,#050505 477.22px,#050505 478.12px,#050505 479.77px,#050505 480.67px,#050505 482.31px,#050505 483.21px,#050505 484.86px,#050505 485.76px,#050505 487.41px,#050505 488.31px,#050505 489.95px,#050505 490.85px,#050505 492.50px,#050505 493.40px,#050505 495.05px,#050505 495.95px,#050505 497.59px,#050505 498.49px,#050505 500.14px,#050505 501.04px,#050505 502.69px,#050505 503.59px,#050505 505.23px,#050505 506.13px,#050505 507.78px,#050505 508.68px,#050505 510.33px,#636363 511.23px,#636363 512.88px,#050505 513.78px,#050505 515.42px,#050505 516.32px,#050505 517.97px,#050505 518.87px,#050505 520.52px,#050505 521.42px,#050505 523.06px,#050505 523.96px,#050505 525.61px,#050505 526.51px,#050505 528.16px,#050505 529.06px,#050505 530.70px)"></div><div class="r" style="left:557px;width:457px;background:linear-gradient(180deg,#000000 -0.70px,#000000 0.95px,#000000 1.85px,#000000 3.50px,#000000 4.40px,#000000 6.04px,#000000 6.94px,#000000 8.59px,#000000 9.49px,#000000 11.14px,#010101 12.04px,#010101 13.68px,#010101 14.58px,#010101 16.23px,#010101 17.13px,#010101 18.78px,#010101 19.68px,#010101 21.32px,#0a0a0a 22.22px,#0a0a0a 23.87px,#010101 24.77px,#010101 26.42px,#010101 27.32px,#010101 28.96px,#010101 29.86px,#010101 31.51px,#010101 32.41px,#010101 34.06px,#020202 34.96px,#020202 36.60px,#020202 37.50px,#020202 39.15px,#020202 40.05px,#020202 41.70px,#020202 42.60px,#020202 44.25px,#020202 45.15px,#020202 46.79px,#020202 47.69px,#020202 49.34px,#030303 50.24px,#030303 51.89px,#030303 52.79px,#030303 54.43px,#030303 55.33px,#030303 56.98px,#020202 57.88px,#020202 59.53px,#020202 60.43px,#020202 62.07px,#020202 62.97px,#020202 64.62px,#020202 65.52px,#020202 67.17px,#5a5a5a 68.07px,#5a5a5a 69.71px,#020202 70.61px,#020202 72.26px,#020202 73.16px,#020202 74.81px,#020202 75.71px,#020202 77.36px,#020202 78.26px,#020202 79.90px,#020202 80.80px,#020202 82.45px,#020202 83.35px,#020202 85.00px,#020202 85.90px,#020202 87.54px,#020202 88.44px,#020202 90.09px,#020202 90.99px,#020202 92.64px,#020202 93.54px,#020202 95.18px,#020202 96.08px,#020202 97.73px,#020202 98.63px,#020202 100.28px,#020202 101.18px,#020202 102.82px,#020202 103.72px,#020202 105.37px,#020202 106.27px,#020202 107.92px,#020202 108.82px,#020202 110.46px,#1b1b1b 111.36px,#1b1b1b 113.01px,#020202 113.91px,#020202 115.56px,#020202 116.46px,#020202 118.11px,#020202 119.01px,#020202 120.65px,#020202 121.55px,#020202 123.20px,#020202 124.10px,#020202 125.75px,#020202 126.65px,#020202 128.29px,#020202 129.19px,#020202 130.84px,#020202 131.74px,#020202 133.39px,#020202 134.29px,#020202 135.93px,#020202 136.83px,#020202 138.48px,#020202 139.38px,#020202 141.03px,#030303 141.93px,#030303 143.57px,#030303 144.47px,#030303 146.12px,#040404 147.02px,#040404 148.67px,#030303 149.57px,#030303 151.22px,#030303 152.12px,#030303 153.76px,#030303 154.66px,#030303 156.31px,#191919 157.21px,#191919 158.86px,#030303 159.76px,#030303 161.40px,#030303 162.30px,#030303 163.95px,#040404 164.85px,#040404 166.50px,#030303 167.40px,#030303 169.04px,#030303 169.94px,#030303 171.59px,#030303 172.49px,#030303 174.14px,#030303 175.04px,#030303 176.68px,#030303 177.58px,#030303 179.23px,#030303 180.13px,#030303 181.78px,#030303 182.68px,#030303 184.33px,#030303 185.23px,#030303 186.87px,#030303 187.77px,#030303 189.42px,#030303 190.32px,#030303 191.97px,#030303 192.87px,#030303 194.51px,#030303 195.41px,#030303 197.06px,#030303 197.96px,#030303 199.61px,#555555 200.51px,#555555 202.15px,#030303 203.05px,#030303 204.70px,#030303 205.60px,#030303 207.25px,#030303 208.15px,#030303 209.79px,#040404 210.69px,#040404 212.34px,#040404 213.24px,#040404 214.89px,#040404 215.79px,#040404 217.43px,#040404 218.33px,#040404 219.98px,#040404 220.88px,#040404 222.53px,#040404 223.43px,#040404 225.08px,#040404 225.98px,#040404 227.62px,#040404 228.52px,#040404 230.17px,#040404 231.07px,#040404 232.72px,#040404 233.62px,#040404 235.26px,#040404 236.16px,#040404 237.81px,#040404 238.71px,#040404 240.36px,#040404 241.26px,#040404 242.90px,#060606 243.80px,#060606 245.45px,#929292 246.35px,#929292 248.00px,#050505 248.90px,#050505 250.54px,#050505 251.44px,#050505 253.09px,#050505 253.99px,#050505 255.64px,#050505 256.54px,#050505 258.19px,#050505 259.09px,#050505 260.73px,#050505 261.63px,#050505 263.28px,#050505 264.18px,#050505 265.83px,#050505 266.73px,#050505 268.37px,#050505 269.27px,#050505 270.92px,#050505 271.82px,#050505 273.47px,#050505 274.37px,#050505 276.01px,#050505 276.91px,#050505 278.56px,#050505 279.46px,#050505 281.11px,#050505 282.01px,#050505 283.65px,#050505 284.55px,#050505 286.20px,#050505 287.10px,#050505 288.75px,#595959 289.65px,#595959 291.29px,#060606 292.19px,#060606 293.84px,#070707 294.74px,#070707 296.39px,#070707 297.29px,#070707 298.94px,#080808 299.84px,#080808 301.48px,#080808 302.38px,#080808 304.03px,#080808 304.93px,#080808 306.58px,#080808 307.48px,#080808 309.12px,#080808 310.02px,#080808 311.67px,#090909 312.57px,#090909 314.22px,#080808 315.12px,#080808 316.76px,#080808 317.66px,#080808 319.31px,#070707 320.21px,#070707 321.86px,#070707 322.76px,#070707 324.40px,#080808 325.30px,#080808 326.95px,#070707 327.85px,#070707 329.50px,#070707 330.40px,#070707 332.05px,#070707 332.95px,#070707 334.59px,#454545 335.49px,#454545 337.14px,#070707 338.04px,#070707 339.69px,#080808 340.59px,#080808 342.23px,#060606 343.13px,#060606 344.78px,#060606 345.68px,#060606 347.33px,#050505 348.23px,#050505 349.87px,#050505 350.77px,#050505 352.42px,#050505 353.32px,#050505 354.97px,#050505 355.87px,#050505 357.51px,#050505 358.41px,#050505 360.06px,#050505 360.96px,#050505 362.61px,#050505 363.51px,#050505 365.15px,#050505 366.05px,#050505 367.70px,#050505 368.60px,#050505 370.25px,#050505 371.15px,#050505 372.80px,#050505 373.70px,#050505 375.34px,#050505 376.24px,#050505 377.89px,#464646 378.79px,#464646 380.44px,#050505 381.34px,#050505 382.98px,#050505 383.88px,#050505 385.53px,#050505 386.43px,#050505 388.08px,#050505 388.98px,#050505 390.62px,#050505 391.52px,#050505 393.17px,#050505 394.07px,#050505 395.72px,#050505 396.62px,#050505 398.26px,#050505 399.16px,#050505 400.81px,#050505 401.71px,#050505 403.36px,#050505 404.26px,#050505 405.91px,#050505 406.81px,#050505 408.45px,#050505 409.35px,#050505 411.00px,#050505 411.90px,#050505 413.55px,#050505 414.45px,#050505 416.09px,#050505 416.99px,#050505 418.64px,#050505 419.54px,#050505 421.19px,#3a3a3a 422.09px,#3a3a3a 423.73px,#2b2b2b 424.63px,#2b2b2b 426.28px,#060606 427.18px,#060606 428.83px,#060606 429.73px,#060606 431.37px,#050505 432.27px,#050505 433.92px,#060606 434.82px,#060606 436.47px,#050505 437.37px,#050505 439.02px,#050505 439.92px,#050505 441.56px,#050505 442.46px,#050505 444.11px,#050505 445.01px,#050505 446.66px,#050505 447.56px,#050505 449.20px,#050505 450.10px,#050505 451.75px,#050505 452.65px,#050505 454.30px,#050505 455.20px,#050505 456.84px,#050505 457.74px,#050505 459.39px,#050505 460.29px,#050505 461.94px,#050505 462.84px,#050505 464.48px,#050505 465.38px,#050505 467.03px,#525252 467.93px,#525252 469.58px,#050505 470.48px,#050505 472.12px,#050505 473.02px,#050505 474.67px,#050505 475.57px,#050505 477.22px,#050505 478.12px,#050505 479.77px,#050505 480.67px,#050505 482.31px,#050505 483.21px,#050505 484.86px,#050505 485.76px,#050505 487.41px,#050505 488.31px,#050505 489.95px,#050505 490.85px,#050505 492.50px,#050505 493.40px,#050505 495.05px,#050505 495.95px,#050505 497.59px,#050505 498.49px,#050505 500.14px,#050505 501.04px,#050505 502.69px,#050505 503.59px,#050505 505.23px,#050505 506.13px,#050505 507.78px,#050505 508.68px,#050505 510.33px,#636363 511.23px,#636363 512.88px,#050505 513.78px,#050505 515.42px,#050505 516.32px,#050505 517.97px,#050505 518.87px,#050505 520.52px,#050505 521.42px,#050505 523.06px,#050505 523.96px,#050505 525.61px,#050505 526.51px,#050505 528.16px,#050505 529.06px,#050505 530.70px)"></div><div class="r" style="left:55.0px;top:291.0px;width:64px;height:30px;transform:rotate(0deg);background:radial-gradient(closest-side,#1c1c1c,#000)"></div><div class="r" style="left:87.0px;top:308.0px;width:170px;height:22px;transform:rotate(5deg);background:radial-gradient(closest-side,#111111,#000)"></div><div class="r" style="left:351.0px;top:315.0px;width:96px;height:24px;transform:rotate(0deg);background:radial-gradient(closest-side,#121212,#000)"></div><div class="r" style="left:917.0px;top:292.0px;width:84px;height:30px;transform:rotate(0deg);background:radial-gradient(closest-side,#1a1a1a,#000)"></div><div class="r" style="left:969.0px;top:295.0px;width:60px;height:22px;transform:rotate(0deg);background:radial-gradient(closest-side,#0d0d0d,#000)"></div></div>
<div class="cb"></div>
<svg width="4000" height="600" style="position:absolute;left:0;top:0" viewBox="0 0 2880 432" version="1.1">
<defs>
<style type="text/css">*{stroke-linejoin: round; stroke-linecap: butt}</style>
</defs>
<g id="figure_1">
<g id="axes_1">
<g id="matplotlib.axis_1">
<g id="xtick_1">
<g id="line2d_1">
<defs>
<path id="m1504cfccaf" d="M 0 0 
L 0 3.5 
" style="stroke: #000000; stroke-width: 0.8"/>
</defs>
<g>
<use href="#m1504cfccaf" x="124.19" y="404.28" style="stroke: #000000; stroke-width: 0.8"/>
</g>
</g>
<g id="text_1" style="transform-box:fill-box;transform-origin:50% 100%;transform:scale(0.978,0.955)">
<!-- −1 -->
<g transform="translate(116.82 418.87) scale(0.1 -0.1)">
<defs>
<path id="DejaVuSans-2212" d="M 678 2272 
L 4684 2272 
L 4684 1741 
L 678 1741 
L 678 2272 
z
" transform="scale(0.015625)"/>
<path id="DejaVuSans-31" d="M 794 531 
L 1825 531 
L 1825 4091 
L 703 3866 
L 703 4441 
L 1819 4666 
L 2450 4666 
L 2450 531 
L 3481 531 
L 3481 0 
L 794 0 
L 794 531 
z
" transform="scale(0.015625)"/>
</defs>
<use href="#DejaVuSans-2212"/>
<use href="#DejaVuSans-31" transform="translate(83.78 0)"/>
</g>
</g>
</g>
<g id="xtick_2">
<g id="line2d_2">
<g>
<use href="#m1504cfccaf" x="223.55" y="404.28" style="stroke: #000000; stroke-width: 0.8"/>
</g>
</g>
<g id="text_2" style="transform-box:fill-box;transform-origin:50% 100%;transform:scale(0.978,0.955)">
<!-- 0 -->
<g transform="translate(220.37 418.87) scale(0.1 -0.1)">
<defs>
<path id="DejaVuSans-30" d="M 2034 4250 
Q 1547 4250 1301 3770 
Q 1056 3291 1056 2328 
Q 1056 1369 1301 889 
Q 1547 409 2034 409 
Q 2525 409 2770 889 
Q 3016 1369 3016 2328 
Q 3016 3291 2770 3770 
Q 2525 4250 2034 4250 
z
M 2034 4750 
Q 2819 4750 3233 4129 
Q 3647 3509 3647 2328 
Q 3647 1150 3233 529 
Q 2819 -91 2034 -91 
Q 1250 -91 836 529 
Q 422 1150 422 2328 
Q 422 3509 836 4129 
Q 1250 4750 2034 4750 
z
" transform="scale(0.015625)"/>
</defs>
<use href="#DejaVuSans-30"/>
</g>
</g>
</g>
<g id="xtick_3">
<g id="line2d_3">
<g>
<use href="#m1504cfccaf" x="322.91" y="404.28" style="stroke: #000000; stroke-width: 0.8"/>
</g>
</g>
<g id="text_3" style="transform-box:fill-box;transform-origin:50% 100%;transform:scale(0.978,0.955)">
<!-- 1 -->
<g transform="translate(319.73 418.87) scale(0.1 -0.1)">
<use href="#DejaVuSans-31"/>
</g>
</g>
</g>
<g id="xtick_4">
<g id="line2d_4">
<g>
<use href="#m1504cfccaf" x="422.27" y="404.28" style="stroke: #000000; stroke-width: 0.8"/>
</g>
</g>
<g id="text_4" style="transform-box:fill-box;transform-origin:50% 100%;transform:scale(0.978,0.955)">
<!-- 2 -->
<g transform="translate(419.09 418.87) scale(0.1 -0.1)">
<defs>
<path id="DejaVuSans-32" d="M 1228 531 
L 3431 531 
L 3431 0 
L 469 0 
L 469 531 
Q 828 903 1448 1529 
Q 2069 2156 2228 2338 
Q 2531 2678 2651 2914 
Q 2772 3150 2772 3378 
Q 2772 3750 2511 3984 
Q 2250 4219 1831 4219 
Q 1534 4219 1204 4116 
Q 875 4013 500 3803 
L 500 4441 
Q 881 4594 1212 4672 
Q 1544 4750 1819 4750 
Q 2544 4750 2975 4387 
Q 3406 4025 3406 3419 
Q 3406 3131 3298 2873 
Q 3191 2616 2906 2266 
Q 2828 2175 2409 1742 
Q 1991 1309 1228 531 
z
" transform="scale(0.015625)"/>
</defs>
<use href="#DejaVuSans-32"/>
</g>
</g>
</g>
<g id="xtick_5">
<g id="line2d_5">
<g>
<use href="#m1504cfccaf" x="521.63" y="404.28" style="stroke: #000000; stroke-width: 0.8"/>
</g>
</g>
<g id="text_5" style="transform-box:fill-box;transform-origin:50% 100%;transform:scale(0.978,0.955)">
<!-- 3 -->
<g transform="translate(518.45 418.87) scale(0.1 -0.1)">
<defs>
<path id="DejaVuSans-33" d="M 2597 2516 
Q 3050 2419 3304 2112 
Q 3559 1806 3559 1356 
Q 3559 666 3084 287 
Q 2609 -91 1734 -91 
Q 1441 -91 1130 -33 
Q 819 25 488 141 
L 488 750 
Q 750 597 1062 519 
Q 1375 441 1716 441 
Q 2309 441 2620 675 
Q 2931 909 2931 1356 
Q 2931 1769 2642 2001 
Q 2353 2234 1838 2234 
L 1294 2234 
L 1294 2753 
L 1863 2753 
Q 2328 2753 2575 2939 
Q 2822 3125 2822 3475 
Q 2822 3834 2567 4026 
Q 2313 4219 1838 4219 
Q 1578 4219 1281 4162 
Q 984 4106 628 3988 
L 628 4550 
Q 988 4650 1302 4700 
Q 1616 4750 1894 4750 
Q 2613 4750 3031 4423 
Q 3450 4097 3450 3541 
Q 3450 3153 3228 2886 
Q 3006 2619 2597 2516 
z
" transform="scale(0.015625)"/>
</defs>
<use href="#DejaVuSans-33"/>
</g>
</g>
</g>
<g id="xtick_6">
<g id="line2d_6">
<g>
<use href="#m1504cfccaf" x="620.99" y="404.28" style="stroke: #000000; stroke-width: 0.8"/>
</g>
</g>
<g id="text_6" style="transform-box:fill-box;transform-origin:50% 100%;transform:scale(0.978,0.955)">
<!-- 4 -->
<g transform="translate(617.81 418.87) scale(0.1 -0.1)">
<defs>
<path id="DejaVuSans-34" d="M 2419 4116 
L 825 1625 
L 2419 1625 
L 2419 4116 
z
M 2253 4666 
L 3047 4666 
L 3047 1625 
L 3713 1625 
L 3713 1100 
L 3047 1100 
L 3047 0 
L 2419 0 
L 2419 1100 
L 313 1100 
L 313 1709 
L 2253 4666 
z
" transform="scale(0.015625)"/>
</defs>
<use href="#DejaVuSans-34"/>
</g>
</g>
</g>
<g id="xtick_7">
<g id="line2d_7">
<g>
<use href="#m1504cfccaf" x="720.35" y="404.28" style="stroke: #000000; stroke-width: 0.8"/>
</g>
</g>
<g id="text_7" style="transform-box:fill-box;transform-origin:50% 100%;transform:scale(0.978,0.955)">
<!-- 5 -->
<g transform="translate(717.17 418.87) scale(0.1 -0.1)">
<defs>
<path id="DejaVuSans-35" d="M 691 4666 
L 3169 4666 
L 3169 4134 
L 1269 4134 
L 1269 2991 
Q 1406 3038 1543 3061 
Q 1681 3084 1819 3084 
Q 2600 3084 3056 2656 
Q 3513 2228 3513 1497 
Q 3513 744 3044 326 
Q 2575 -91 1722 -91 
Q 1428 -91 1123 -41 
Q 819 9 494 109 
L 494 744 
Q 775 591 1075 516 
Q 1375 441 1709 441 
Q 2250 441 2565 725 
Q 2881 1009 2881 1497 
Q 2881 1984 2565 2268 
Q 2250 2553 1709 2553 
Q 1456 2553 1204 2497 
Q 953 2441 691 2322 
L 691 4666 
z
" transform="scale(0.015625)"/>
</defs>
<use href="#DejaVuSans-35"/>
</g>
</g>
</g>
</g>
<g id="matplotlib.axis_2">
<g id="ytick_1">
<g id="line2d_8">
<defs>
<path id="m5d545ce8f8" d="M 0 0 
L -3.5 0 
" style="stroke: #000000; stroke-width: 0.8"/>
</defs>
<g>
<use href="#m5d545ce8f8" x="67.32" y="350.27" style="stroke: #000000; stroke-width: 0.8"/>
</g>
</g>
<g id="text_8" style="transform-box:fill-box;transform-origin:100% 100%;transform:scale(0.978,0.955)">
<!-- 1419.5 -->
<g transform="translate(25.32 354.07) scale(0.1 -0.1)">
<defs>
<path id="DejaVuSans-39" d="M 703 97 
L 703 672 
Q 941 559 1184 500 
Q 1428 441 1663 441 
Q 2288 441 2617 861 
Q 2947 1281 2994 2138 
Q 2813 1869 2534 1725 
Q 2256 1581 1919 1581 
Q 1219 1581 811 2004 
Q 403 2428 403 3163 
Q 403 3881 828 4315 
Q 1253 4750 1959 4750 
Q 2769 4750 3195 4129 
Q 3622 3509 3622 2328 
Q 3622 1225 3098 567 
Q 2575 -91 1691 -91 
Q 1453 -91 1209 -44 
Q 966 3 703 97 
z
M 1959 2075 
Q 2384 2075 2632 2365 
Q 2881 2656 2881 3163 
Q 2881 3666 2632 3958 
Q 2384 4250 1959 4250 
Q 1534 4250 1286 3958 
Q 1038 3666 1038 3163 
Q 1038 2656 1286 2365 
Q 1534 2075 1959 2075 
z
" transform="scale(0.015625)"/>
<path id="DejaVuSans-2e" d="M 684 794 
L 1344 794 
L 1344 0 
L 684 0 
L 684 794 
z
" transform="scale(0.015625)"/>
</defs>
<use href="#DejaVuSans-31"/>
<use href="#DejaVuSans-34" transform="translate(63.62 0)"/>
<use href="#DejaVuSans-31" transform="translate(127.24 0)"/>
<use href="#DejaVuSans-39" transform="translate(190.86 0)"/>
<use href="#DejaVuSans-2e" transform="translate(254.49 0)"/>
<use href="#DejaVuSans-35" transform="translate(286.27 0)"/>
</g>
</g>
</g>
<g id="ytick_2">
<g id="line2d_9">
<g>
<use href="#m5d545ce8f8" x="67.32" y="295.54" style="stroke: #000000; stroke-width: 0.8"/>
</g>
</g>
<g id="text_9" style="transform-box:fill-box;transform-origin:100% 100%;transform:scale(0.978,0.955)">
<!-- 1420.0 -->
<g transform="translate(25.32 299.34) scale(0.1 -0.1)">
<use href="#DejaVuSans-31"/>
<use href="#DejaVuSans-34" transform="translate(63.62 0)"/>
<use href="#DejaVuSans-32" transform="translate(127.24 0)"/>
<use href="#DejaVuSans-30" transform="translate(190.86 0)"/>
<use href="#DejaVuSans-2e" transform="translate(254.49 0)"/>
<use href="#DejaVuSans-30" transform="translate(286.27 0)"/>
</g>
</g>
</g>
<g id="ytick_3">
<g id="line2d_10">
<g>
<use href="#m5d545ce8f8" x="67.32" y="240.81" style="stroke: #000000; stroke-width: 0.8"/>
</g>
</g>
<g id="text_10" style="transform-box:fill-box;transform-origin:100% 100%;transform:scale(0.978,0.955)">
<!-- 1420.5 -->
<g transform="translate(25.32 244.61) scale(0.1 -0.1)">
<use href="#DejaVuSans-31"/>
<use href="#DejaVuSans-34" transform="translate(63.62 0)"/>
<use href="#DejaVuSans-32" transform="translate(127.24 0)"/>
<use href="#DejaVuSans-30" transform="translate(190.86 0)"/>
<use href="#DejaVuSans-2e" transform="translate(254.49 0)"/>
<use href="#DejaVuSans-35" transform="translate(286.27 0)"/>
</g>
</g>
</g>
<g id="ytick_4">
<g id="line2d_11">
<g>
<use href="#m5d545ce8f8" x="67.32" y="186.08" style="stroke: #000000; stroke-width: 0.8"/>
</g>
</g>
<g id="text_11" style="transform-box:fill-box;transform-origin:100% 100%;transform:scale(0.978,0.955)">
<!-- 1421.0 -->
<g transform="translate(25.32 189.88) scale(0.1 -0.1)">
<use href="#DejaVuSans-31"/>
<use href="#DejaVuSans-34" transform="translate(63.62 0)"/>
<use href="#DejaVuSans-32" transform="translate(127.24 0)"/>
<use href="#DejaVuSans-31" transform="translate(190.86 0)"/>
<use href="#DejaVuSans-2e" transform="translate(254.49 0)"/>
<use href="#DejaVuSans-30" transform="translate(286.27 0)"/>
</g>
</g>
</g>
<g id="ytick_5">
<g id="line2d_12">
<g>
<use href="#m5d545ce8f8" x="67.32" y="131.35" style="stroke: #000000; stroke-width: 0.8"/>
</g>
</g>
<g id="text_12" style="transform-box:fill-box;transform-origin:100% 100%;transform:scale(0.978,0.955)">
<!-- 1421.5 -->
<g transform="translate(25.32 135.15) scale(0.1 -0.1)">
<use href="#DejaVuSans-31"/>
<use href="#DejaVuSans-34" transform="translate(63.62 0)"/>
<use href="#DejaVuSans-32" transform="translate(127.24 0)"/>
<use href="#DejaVuSans-31" transform="translate(190.86 0)"/>
<use href="#DejaVuSans-2e" transform="translate(254.49 0)"/>
<use href="#DejaVuSans-35" transform="translate(286.27 0)"/>
</g>
</g>
</g>
<g id="ytick_6">
<g id="line2d_13">
<g>
<use href="#m5d545ce8f8" x="67.32" y="76.62" style="stroke: #000000; stroke-width: 0.8"/>
</g>
</g>
<g id="text_13" style="transform-box:fill-box;transform-origin:100% 100%;transform:scale(0.978,0.955)">
<!-- 1422.0 -->
<g transform="translate(25.32 80.42) scale(0.1 -0.1)">
<use href="#DejaVuSans-31"/>
<use href="#DejaVuSans-34" transform="translate(63.62 0)"/>
<use href="#DejaVuSans-32" transform="translate(127.24 0)"/>
<use href="#DejaVuSans-32" transform="translate(190.86 0)"/>
<use href="#DejaVuSans-2e" transform="translate(254.49 0)"/>
<use href="#DejaVuSans-30" transform="translate(286.27 0)"/>
</g>
</g>
</g>
<g id="text_14" style="transform-box:fill-box;transform-origin:50% 50%;transform:translate(0.25px,0.8px) scale(0.955,0.978)">
<!-- SX -->
<g transform="translate(19.24 219.71) rotate(-90) scale(0.1 -0.1)">
<defs>
<path id="DejaVuSans-53" d="M 3425 4513 
L 3425 3897 
Q 3066 4069 2747 4153 
Q 2428 4238 2131 4238 
Q 1616 4238 1336 4038 
Q 1056 3838 1056 3469 
Q 1056 3159 1242 3001 
Q 1428 2844 1947 2747 
L 2328 2669 
Q 3034 2534 3370 2195 
Q 3706 1856 3706 1288 
Q 3706 609 3251 259 
Q 2797 -91 1919 -91 
Q 1588 -91 1214 -16 
Q 841 59 441 206 
L 441 856 
Q 825 641 1194 531 
Q 1563 422 1919 422 
Q 2459 422 2753 634 
Q 3047 847 3047 1241 
Q 3047 1584 2836 1778 
Q 2625 1972 2144 2069 
L 1759 2144 
Q 1053 2284 737 2584 
Q 422 2884 422 3419 
Q 422 4038 858 4394 
Q 1294 4750 2059 4750 
Q 2388 4750 2728 4690 
Q 3069 4631 3425 4513 
z
" transform="scale(0.015625)"/>
<path id="DejaVuSans-58" d="M 403 4666 
L 1081 4666 
L 2241 2931 
L 3406 4666 
L 4084 4666 
L 2584 2425 
L 4184 0 
L 3506 0 
L 2194 1984 
L 872 0 
L 191 0 
L 1856 2491 
L 403 4666 
z
" transform="scale(0.015625)"/>
</defs>
<use href="#DejaVuSans-53"/>
<use href="#DejaVuSans-58" transform="translate(63.47 0)"/>
</g>
</g>
</g>
<g id="patch_1">
<path d="M 67.32 404.28 
L 67.32 21.96 
" style="fill: none; stroke: #000000; stroke-width: 0.8; stroke-linejoin: miter; stroke-linecap: square"/>
</g>
<g id="patch_2">
<path d="M 796.68 404.28 
L 796.68 21.96 
" style="fill: none; stroke: #000000; stroke-width: 0.8; stroke-linejoin: miter; stroke-linecap: square"/>
</g>
<g id="patch_3">
<path d="M 67.32 404.28 
L 796.68 404.28 
" style="fill: none; stroke: #000000; stroke-width: 0.8; stroke-linejoin: miter; stroke-linecap: square"/>
</g>
<g id="patch_4">
<path d="M 67.32 21.96 
L 796.68 21.96 
" style="fill: none; stroke: #000000; stroke-width: 0.8; stroke-linejoin: miter; stroke-linecap: square"/>
</g>
</g>
<g id="axes_2">
<g id="matplotlib.axis_3"/>
<g id="matplotlib.axis_4">
<g id="ytick_7">
<g id="line2d_14">
<defs>
<path id="m33c4ce201d" d="M 0 0 
L 3.5 0 
" style="stroke: #000000; stroke-width: 0.8"/>
</defs>
<g>
<use href="#m33c4ce201d" x="861.48" y="337.34" style="stroke: #000000; stroke-width: 0.8"/>
</g>
</g>
<g id="text_15" style="transform-box:fill-box;transform-origin:0% 100%;transform:scale(0.978,0.955)">
<!-- $\mathdefault{10^{12}}$ -->
<g transform="translate(868.48 341.14) scale(0.1 -0.1)">
<use href="#DejaVuSans-31" transform="translate(0 0.765625)"/>
<use href="#DejaVuSans-30" transform="translate(63.62 0.765625)"/>
<use href="#DejaVuSans-31" transform="translate(128.20 39.04) scale(0.7)"/>
<use href="#DejaVuSans-32" transform="translate(172.73 39.04) scale(0.7)"/>
</g>
</g>
</g>
<g id="ytick_8">
<g id="line2d_15">
<g>
<use href="#m33c4ce201d" x="861.48" y="98.28" style="stroke: #000000; stroke-width: 0.8"/>
</g>
</g>
<g id="text_16" style="transform-box:fill-box;transform-origin:0% 100%;transform:scale(0.978,0.955)">
<!-- $\mathdefault{10^{13}}$ -->
<g transform="translate(868.48 102.07) scale(0.1 -0.1)">
<use href="#DejaVuSans-31" transform="translate(0 0.765625)"/>
<use href="#DejaVuSans-30" transform="translate(63.62 0.765625)"/>
<use href="#DejaVuSans-31" transform="translate(128.20 39.04) scale(0.7)"/>
<use href="#DejaVuSans-33" transform="translate(172.73 39.04) scale(0.7)"/>
</g>
</g>
</g>
<g id="ytick_9">
<g id="line2d_16">
<defs>
<path id="m7389b9bb77" d="M 0 0 
L 2 0 
" style="stroke: #000000; stroke-width: 0.6"/>
</defs>
<g>
<use href="#m7389b9bb77" x="861.48" y="390.37" style="stroke: #000000; stroke-width: 0.6"/>
</g>
</g>
</g>
<g id="ytick_10">
<g id="line2d_17">
<g>
<use href="#m7389b9bb77" x="861.48" y="374.37" style="stroke: #000000; stroke-width: 0.6"/>
</g>
</g>
</g>
<g id="ytick_11">
<g id="line2d_18">
<g>
<use href="#m7389b9bb77" x="861.48" y="360.50" style="stroke: #000000; stroke-width: 0.6"/>
</g>
</g>
</g>
<g id="ytick_12">
<g id="line2d_19">
<g>
<use href="#m7389b9bb77" x="861.48" y="348.28" style="stroke: #000000; stroke-width: 0.6"/>
</g>
</g>
</g>
<g id="ytick_13">
<g id="line2d_20">
<g>
<use href="#m7389b9bb77" x="861.48" y="265.37" style="stroke: #000000; stroke-width: 0.6"/>
</g>
</g>
</g>
<g id="ytick_14">
<g id="line2d_21">
<g>
<use href="#m7389b9bb77" x="861.48" y="223.28" style="stroke: #000000; stroke-width: 0.6"/>
</g>
</g>
</g>
<g id="ytick_15">
<g id="line2d_22">
<g>
<use href="#m7389b9bb77" x="861.48" y="193.41" style="stroke: #000000; stroke-width: 0.6"/>
</g>
</g>
</g>
<g id="ytick_16">
<g id="line2d_23">
<g>
<use href="#m7389b9bb77" x="861.48" y="170.24" style="stroke: #000000; stroke-width: 0.6"/>
</g>
</g>
</g>
<g id="ytick_17">
<g id="line2d_24">
<g>
<use href="#m7389b9bb77" x="861.48" y="151.31" style="stroke: #000000; stroke-width: 0.6"/>
</g>
</g>
</g>
<g id="ytick_18">
<g id="line2d_25">
<g>
<use href="#m7389b9bb77" x="861.48" y="135.31" style="stroke: #000000; stroke-width: 0.6"/>
</g>
</g>
</g>
<g id="ytick_19">
<g id="line2d_26">
<g>
<use href="#m7389b9bb77" x="861.48" y="121.44" style="stroke: #000000; stroke-width: 0.6"/>
</g>
</g>
</g>
<g id="ytick_20">
<g id="line2d_27">
<g>
<use href="#m7389b9bb77" x="861.48" y="109.21" style="stroke: #000000; stroke-width: 0.6"/>
</g>
</g>
</g>
<g id="ytick_21">
<g id="line2d_28">
<g>
<use href="#m7389b9bb77" x="861.48" y="26.31" style="stroke: #000000; stroke-width: 0.6"/>
</g>
</g>
</g>
</g>
<g id="LineCollection_1"/>
<g id="patch_5">
<path d="M 842.04 404.28 
L 851.76 404.28 
L 861.48 404.28 
L 861.48 21.96 
L 851.76 21.96 
L 842.04 21.96 
L 842.04 404.28 
z
" style="fill: none; stroke: #000000; stroke-width: 0.8; stroke-linejoin: miter; stroke-linecap: square"/>
</g>
</g>
<g id="axes_3">
<g id="matplotlib.axis_5">
<g id="xtick_8">
<g id="line2d_29">
<g>
<use href="#m1504cfccaf" x="1052.27" y="404.28" style="stroke: #000000; stroke-width: 0.8"/>
</g>
</g>
<g id="text_17" style="transform-box:fill-box;transform-origin:50% 100%;transform:scale(0.978,0.955)">
<!-- 1419.0 -->
<g transform="translate(1034.78 418.87) scale(0.1 -0.1)">
<use href="#DejaVuSans-31"/>
<use href="#DejaVuSans-34" transform="translate(63.62 0)"/>
<use href="#DejaVuSans-31" transform="translate(127.24 0)"/>
<use href="#DejaVuSans-39" transform="translate(190.86 0)"/>
<use href="#DejaVuSans-2e" transform="translate(254.49 0)"/>
<use href="#DejaVuSans-30" transform="translate(286.27 0)"/>
</g>
</g>
</g>
<g id="xtick_9">
<g id="line2d_30">
<g>
<use href="#m1504cfccaf" x="1170.97" y="404.28" style="stroke: #000000; stroke-width: 0.8"/>
</g>
</g>
<g id="text_18" style="transform-box:fill-box;transform-origin:50% 100%;transform:scale(0.978,0.955)">
<!-- 1419.5 -->
<g transform="translate(1153.48 418.87) scale(0.1 -0.1)">
<use href="#DejaVuSans-31"/>
<use href="#DejaVuSans-34" transform="translate(63.62 0)"/>
<use href="#DejaVuSans-31" transform="translate(127.24 0)"/>
<use href="#DejaVuSans-39" transform="translate(190.86 0)"/>
<use href="#DejaVuSans-2e" transform="translate(254.49 0)"/>
<use href="#DejaVuSans-35" transform="translate(286.27 0)"/>
</g>
</g>
</g>
<g id="xtick_10">
<g id="line2d_31">
<g>
<use href="#m1504cfccaf" x="1289.67" y="404.28" style="stroke: #000000; stroke-width: 0.8"/>
</g>
</g>
<g id="text_19" style="transform-box:fill-box;transform-origin:50% 100%;transform:scale(0.978,0.955)">
<!-- 1420.0 -->
<g transform="translate(1272.17 418.87) scale(0.1 -0.1)">
<use href="#DejaVuSans-31"/>
<use href="#DejaVuSans-34" transform="translate(63.62 0)"/>
<use href="#DejaVuSans-32" transform="translate(127.24 0)"/>
<use href="#DejaVuSans-30" transform="translate(190.86 0)"/>
<use href="#DejaVuSans-2e" transform="translate(254.49 0)"/>
<use href="#DejaVuSans-30" transform="translate(286.27 0)"/>
</g>
</g>
</g>
<g id="xtick_11">
<g id="line2d_32">
<g>
<use href="#m1504cfccaf" x="1408.37" y="404.28" style="stroke: #000000; stroke-width: 0.8"/>
</g>
</g>
<g id="text_20" style="transform-box:fill-box;transform-origin:50% 100%;transform:scale(0.978,0.955)">
<!-- 1420.5 -->
<g transform="translate(1390.87 418.87) scale(0.1 -0.1)">
<use href="#DejaVuSans-31"/>
<use href="#DejaVuSans-34" transform="translate(63.62 0)"/>
<use href="#DejaVuSans-32" transform="translate(127.24 0)"/>
<use href="#DejaVuSans-30" transform="translate(190.86 0)"/>
<use href="#DejaVuSans-2e" transform="translate(254.49 0)"/>
<use href="#DejaVuSans-35" transform="translate(286.27 0)"/>
</g>
</g>
</g>
<g id="xtick_12">
<g id="line2d_33">
<g>
<use href="#m1504cfccaf" x="1527.06" y="404.28" style="stroke: #000000; stroke-width: 0.8"/>
</g>
</g>
<g id="text_21" style="transform-box:fill-box;transform-origin:50% 100%;transform:scale(0.978,0.955)">
<!-- 1421.0 -->
<g transform="translate(1509.57 418.87) scale(0.1 -0.1)">
<use href="#DejaVuSans-31"/>
<use href="#DejaVuSans-34" transform="translate(63.62 0)"/>
<use href="#DejaVuSans-32" transform="translate(127.24 0)"/>
<use href="#DejaVuSans-31" transform="translate(190.86 0)"/>
<use href="#DejaVuSans-2e" transform="translate(254.49 0)"/>
<use href="#DejaVuSans-30" transform="translate(286.27 0)"/>
</g>
</g>
</g>
<g id="xtick_13">
<g id="line2d_34">
<g>
<use href="#m1504cfccaf" x="1645.76" y="404.28" style="stroke: #000000; stroke-width: 0.8"/>
</g>
</g>
<g id="text_22" style="transform-box:fill-box;transform-origin:50% 100%;transform:scale(0.978,0.955)">
<!-- 1421.5 -->
<g transform="translate(1628.26 418.87) scale(0.1 -0.1)">
<use href="#DejaVuSans-31"/>
<use href="#DejaVuSans-34" transform="translate(63.62 0)"/>
<use href="#DejaVuSans-32" transform="translate(127.24 0)"/>
<use href="#DejaVuSans-31" transform="translate(190.86 0)"/>
<use href="#DejaVuSans-2e" transform="translate(254.49 0)"/>
<use href="#DejaVuSans-35" transform="translate(286.27 0)"/>
</g>
</g>
</g>
<g id="xtick_14">
<g id="line2d_35">
<g>
<use href="#m1504cfccaf" x="1764.46" y="404.28" style="stroke: #000000; stroke-width: 0.8"/>
</g>
</g>
<g id="text_23" style="transform-box:fill-box;transform-origin:50% 100%;transform:scale(0.978,0.955)">
<!-- 1422.0 -->
<g transform="translate(1746.96 418.87) scale(0.1 -0.1)">
<use href="#DejaVuSans-31"/>
<use href="#DejaVuSans-34" transform="translate(63.62 0)"/>
<use href="#DejaVuSans-32" transform="translate(127.24 0)"/>
<use href="#DejaVuSans-32" transform="translate(190.86 0)"/>
<use href="#DejaVuSans-2e" transform="translate(254.49 0)"/>
<use href="#DejaVuSans-30" transform="translate(286.27 0)"/>
</g>
</g>
</g>
<g id="xtick_15">
<g id="line2d_36">
<g>
<use href="#m1504cfccaf" x="1883.15" y="404.28" style="stroke: #000000; stroke-width: 0.8"/>
</g>
</g>
<g id="text_24" style="transform-box:fill-box;transform-origin:50% 100%;transform:scale(0.978,0.955)">
<!-- 1422.5 -->
<g transform="translate(1865.66 418.87) scale(0.1 -0.1)">
<use href="#DejaVuSans-31"/>
<use href="#DejaVuSans-34" transform="translate(63.62 0)"/>
<use href="#DejaVuSans-32" transform="translate(127.24 0)"/>
<use href="#DejaVuSans-32" transform="translate(190.86 0)"/>
<use href="#DejaVuSans-2e" transform="translate(254.49 0)"/>
<use href="#DejaVuSans-35" transform="translate(286.27 0)"/>
</g>
</g>
</g>
</g>
<g id="matplotlib.axis_6">
<g id="ytick_22">
<g id="line2d_37">
<g>
<use href="#m5d545ce8f8" x="1012.68" y="371.15" style="stroke: #000000; stroke-width: 0.8"/>
</g>
</g>
<g id="text_25" style="transform-box:fill-box;transform-origin:100% 100%;transform:scale(0.978,0.955)">
<!-- 1 -->
<g transform="translate(999.31 374.95) scale(0.1 -0.1)">
<use href="#DejaVuSans-31"/>
</g>
</g>
</g>
<g id="ytick_23">
<g id="line2d_38">
<g>
<use href="#m5d545ce8f8" x="1012.68" y="307.22" style="stroke: #000000; stroke-width: 0.8"/>
</g>
</g>
<g id="text_26" style="transform-box:fill-box;transform-origin:100% 100%;transform:scale(0.978,0.955)">
<!-- 2 -->
<g transform="translate(999.31 311.02) scale(0.1 -0.1)">
<use href="#DejaVuSans-32"/>
</g>
</g>
</g>
<g id="ytick_24">
<g id="line2d_39">
<g>
<use href="#m5d545ce8f8" x="1012.68" y="243.28" style="stroke: #000000; stroke-width: 0.8"/>
</g>
</g>
<g id="text_27" style="transform-box:fill-box;transform-origin:100% 100%;transform:scale(0.978,0.955)">
<!-- 3 -->
<g transform="translate(999.31 247.08) scale(0.1 -0.1)">
<use href="#DejaVuSans-33"/>
</g>
</g>
</g>
<g id="ytick_25">
<g id="line2d_40">
<g>
<use href="#m5d545ce8f8" x="1012.68" y="179.35" style="stroke: #000000; stroke-width: 0.8"/>
</g>
</g>
<g id="text_28" style="transform-box:fill-box;transform-origin:100% 100%;transform:scale(0.978,0.955)">
<!-- 4 -->
<g transform="translate(999.31 183.15) scale(0.1 -0.1)">
<use href="#DejaVuSans-34"/>
</g>
</g>
</g>
<g id="ytick_26">
<g id="line2d_41">
<g>
<use href="#m5d545ce8f8" x="1012.68" y="115.41" style="stroke: #000000; stroke-width: 0.8"/>
</g>
</g>
<g id="text_29" style="transform-box:fill-box;transform-origin:100% 100%;transform:scale(0.978,0.955)">
<!-- 5 -->
<g transform="translate(999.31 119.21) scale(0.1 -0.1)">
<use href="#DejaVuSans-35"/>
</g>
</g>
</g>
<g id="ytick_27">
<g id="line2d_42">
<g>
<use href="#m5d545ce8f8" x="1012.68" y="51.47" style="stroke: #000000; stroke-width: 0.8"/>
</g>
</g>
<g id="text_30" style="transform-box:fill-box;transform-origin:100% 100%;transform:scale(0.978,0.955)">
<!-- 6 -->
<g transform="translate(999.31 55.27) scale(0.1 -0.1)">
<defs>
<path id="DejaVuSans-36" d="M 2113 2584 
Q 1688 2584 1439 2293 
Q 1191 2003 1191 1497 
Q 1191 994 1439 701 
Q 1688 409 2113 409 
Q 2538 409 2786 701 
Q 3034 994 3034 1497 
Q 3034 2003 2786 2293 
Q 2538 2584 2113 2584 
z
M 3366 4563 
L 3366 3988 
Q 3128 4100 2886 4159 
Q 2644 4219 2406 4219 
Q 1781 4219 1451 3797 
Q 1122 3375 1075 2522 
Q 1259 2794 1537 2939 
Q 1816 3084 2150 3084 
Q 2853 3084 3261 2657 
Q 3669 2231 3669 1497 
Q 3669 778 3244 343 
Q 2819 -91 2113 -91 
Q 1303 -91 875 529 
Q 447 1150 447 2328 
Q 447 3434 972 4092 
Q 1497 4750 2381 4750 
Q 2619 4750 2861 4703 
Q 3103 4656 3366 4563 
z
" transform="scale(0.015625)"/>
</defs>
<use href="#DejaVuSans-36"/>
</g>
</g>
</g>
<g id="text_31" style="transform-box:fill-box;transform-origin:0% 100%;transform:scale(0.978,0.955)">
<!-- 1e12 -->
<g transform="translate(1012.68 18.96) scale(0.1 -0.1)">
<defs>
<path id="DejaVuSans-65" d="M 3597 1894 
L 3597 1613 
L 953 1613 
Q 991 1019 1311 708 
Q 1631 397 2203 397 
Q 2534 397 2845 478 
Q 3156 559 3463 722 
L 3463 178 
Q 3153 47 2828 -22 
Q 2503 -91 2169 -91 
Q 1331 -91 842 396 
Q 353 884 353 1716 
Q 353 2575 817 3079 
Q 1281 3584 2069 3584 
Q 2775 3584 3186 3129 
Q 3597 2675 3597 1894 
z
M 3022 2063 
Q 3016 2534 2758 2815 
Q 2500 3097 2075 3097 
Q 1594 3097 1305 2825 
Q 1016 2553 972 2059 
L 3022 2063 
z
" transform="scale(0.015625)"/>
</defs>
<use href="#DejaVuSans-31"/>
<use href="#DejaVuSans-65" transform="translate(63.62 0)"/>
<use href="#DejaVuSans-31" transform="translate(125.14 0)"/>
<use href="#DejaVuSans-32" transform="translate(188.76 0)"/>
</g>
</g>
</g>
<g id="line2d_43">
<path d="M 1053.68 382.89 
L 1077.59 382.89 
L 1081.57 233.99 
L 1085.56 383.03 
L 1089.54 383.11 
L 1093.53 382.96 
L 1097.51 383.16 
L 1129.39 383.05 
L 1133.38 382.82 
L 1137.36 383.03 
L 1145.33 383.03 
L 1149.32 277.91 
L 1153.31 383.03 
L 1197.14 383.03 
L 1201.13 382.03 
L 1205.11 382.75 
L 1213.08 382.53 
L 1217.07 365.03 
L 1221.05 296.20 
L 1225.04 383.32 
L 1268.88 383.32 
L 1272.86 383.11 
L 1276.85 383.32 
L 1284.82 383.32 
L 1288.80 302.47 
L 1292.79 383.18 
L 1300.76 383.27 
L 1304.74 383.11 
L 1308.73 383.32 
L 1336.62 383.32 
L 1344.60 381.95 
L 1348.58 380.73 
L 1352.57 381.38 
L 1356.55 303.26 
L 1360.54 381.52 
L 1368.51 381.88 
L 1372.49 380.73 
L 1376.48 381.88 
L 1392.42 380.23 
L 1404.37 380.87 
L 1412.34 380.87 
L 1424.30 382.39 
L 1428.28 260.13 
L 1432.27 382.75 
L 1436.25 383.18 
L 1480.09 383.32 
L 1484.08 383.11 
L 1488.06 383.32 
L 1492.05 383.32 
L 1496.03 39.23 
L 1500.02 381.95 
L 1504.00 383.90 
L 1547.84 384.19 
L 1551.83 383.97 
L 1555.81 384.23 
L 1563.78 384.33 
L 1567.77 269.56 
L 1571.75 384.62 
L 1619.57 384.47 
L 1623.56 383.90 
L 1627.54 384.29 
L 1631.53 384.47 
L 1635.51 366.04 
L 1639.50 384.76 
L 1643.49 384.80 
L 1647.47 384.62 
L 1651.46 383.90 
L 1655.44 384.83 
L 1687.32 385.34 
L 1691.31 385.12 
L 1695.29 385.43 
L 1703.26 385.63 
L 1707.25 363.16 
L 1711.23 385.63 
L 1771.01 385.63 
L 1775.00 257.25 
L 1778.98 385.55 
L 1794.92 384.92 
L 1798.91 384.55 
L 1802.89 384.88 
L 1842.75 386.06 
L 1846.73 378.86 
L 1850.72 386.20 
L 1854.70 386.20 
L 1858.69 385.99 
L 1862.67 386.29 
L 1882.60 386.71 
L 1882.60 386.71 
" clip-path="url(#pa6156884ae)" style="fill: none; stroke: #1f77b4; stroke-width: 1.5; stroke-linecap: square"/>
</g>
<g id="line2d_44">
<defs>
<path id="m084c841ee3" d="M 0 3 
C 0.795609 3 1.55 2.68 2.12 2.12 
C 2.68 1.55 3 0.795609 3 0 
C 3 -0.795609 2.68 -1.55 2.12 -2.12 
C 1.55 -2.68 0.795609 -3 0 -3 
C -0.795609 -3 -1.55 -2.68 -2.12 -2.12 
C -2.68 -1.55 -3 -0.795609 -3 0 
C -3 0.795609 -2.68 1.55 -2.12 2.12 
C -1.55 2.68 -0.795609 3 0 3 
z
" style="stroke: #ff0000"/>
</defs>
<g clip-path="url(#pa6156884ae)">
<use href="#m084c841ee3" x="1081.57" y="233.99" style="fill: #ff0000; stroke: #ff0000"/>
<use href="#m084c841ee3" x="1093.53" y="382.96" style="fill: #ff0000; stroke: #ff0000"/>
<use href="#m084c841ee3" x="1133.38" y="382.82" style="fill: #ff0000; stroke: #ff0000"/>
<use href="#m084c841ee3" x="1149.32" y="277.91" style="fill: #ff0000; stroke: #ff0000"/>
<use href="#m084c841ee3" x="1201.13" y="382.03" style="fill: #ff0000; stroke: #ff0000"/>
<use href="#m084c841ee3" x="1217.07" y="365.03" style="fill: #ff0000; stroke: #ff0000"/>
<use href="#m084c841ee3" x="1221.05" y="296.20" style="fill: #ff0000; stroke: #ff0000"/>
<use href="#m084c841ee3" x="1272.86" y="383.11" style="fill: #ff0000; stroke: #ff0000"/>
<use href="#m084c841ee3" x="1288.80" y="302.47" style="fill: #ff0000; stroke: #ff0000"/>
<use href="#m084c841ee3" x="1304.74" y="383.11" style="fill: #ff0000; stroke: #ff0000"/>
<use href="#m084c841ee3" x="1348.58" y="380.73" style="fill: #ff0000; stroke: #ff0000"/>
<use href="#m084c841ee3" x="1356.55" y="303.26" style="fill: #ff0000; stroke: #ff0000"/>
<use href="#m084c841ee3" x="1428.28" y="260.13" style="fill: #ff0000; stroke: #ff0000"/>
<use href="#m084c841ee3" x="1484.08" y="383.11" style="fill: #ff0000; stroke: #ff0000"/>
<use href="#m084c841ee3" x="1496.03" y="39.23" style="fill: #ff0000; stroke: #ff0000"/>
<use href="#m084c841ee3" x="1551.83" y="383.97" style="fill: #ff0000; stroke: #ff0000"/>
<use href="#m084c841ee3" x="1567.77" y="269.56" style="fill: #ff0000; stroke: #ff0000"/>
<use href="#m084c841ee3" x="1623.56" y="383.90" style="fill: #ff0000; stroke: #ff0000"/>
<use href="#m084c841ee3" x="1635.51" y="366.04" style="fill: #ff0000; stroke: #ff0000"/>
<use href="#m084c841ee3" x="1647.47" y="384.62" style="fill: #ff0000; stroke: #ff0000"/>
<use href="#m084c841ee3" x="1651.46" y="383.90" style="fill: #ff0000; stroke: #ff0000"/>
<use href="#m084c841ee3" x="1691.31" y="385.12" style="fill: #ff0000; stroke: #ff0000"/>
<use href="#m084c841ee3" x="1707.25" y="363.16" style="fill: #ff0000; stroke: #ff0000"/>
<use href="#m084c841ee3" x="1775.00" y="257.25" style="fill: #ff0000; stroke: #ff0000"/>
<use href="#m084c841ee3" x="1798.91" y="384.55" style="fill: #ff0000; stroke: #ff0000"/>
<use href="#m084c841ee3" x="1846.73" y="378.86" style="fill: #ff0000; stroke: #ff0000"/>
<use href="#m084c841ee3" x="1858.69" y="385.99" style="fill: #ff0000; stroke: #ff0000"/>
</g>
</g>
<g id="patch_6">
<path d="M 1012.68 404.28 
L 1012.68 21.96 
" style="fill: none; stroke: #000000; stroke-width: 0.8; stroke-linejoin: miter; stroke-linecap: square"/>
</g>
<g id="patch_7">
<path d="M 1924.2 404.28 
L 1924.2 21.96 
" style="fill: none; stroke: #000000; stroke-width: 0.8; stroke-linejoin: miter; stroke-linecap: square"/>
</g>
<g id="patch_8">
<path d="M 1012.68 404.28 
L 1924.2 404.28 
" style="fill: none; stroke: #000000; stroke-width: 0.8; stroke-linejoin: miter; stroke-linecap: square"/>
</g>
<g id="patch_9">
<path d="M 1012.68 21.96 
L 1924.2 21.96 
" style="fill: none; stroke: #000000; stroke-width: 0.8; stroke-linejoin: miter; stroke-linecap: square"/>
</g>
</g>
<g id="axes_4">
<g id="matplotlib.axis_7">
<g id="xtick_16">
<g id="line2d_45">
<g>
<use href="#m1504cfccaf" x="1999.08" y="404.28" style="stroke: #000000; stroke-width: 0.8"/>
</g>
</g>
<g id="text_32" style="transform-box:fill-box;transform-origin:50% 100%;transform:scale(0.978,0.955)">
<!-- 0 -->
<g transform="translate(1995.89 418.87) scale(0.1 -0.1)">
<use href="#DejaVuSans-30"/>
</g>
</g>
</g>
<g id="xtick_17">
<g id="line2d_46">
<g>
<use href="#m1504cfccaf" x="2102.31" y="404.28" style="stroke: #000000; stroke-width: 0.8"/>
</g>
</g>
<g id="text_33" style="transform-box:fill-box;transform-origin:50% 100%;transform:scale(0.978,0.955)">
<!-- 100 -->
<g transform="translate(2092.76 418.87) scale(0.1 -0.1)">
<use href="#DejaVuSans-31"/>
<use href="#DejaVuSans-30" transform="translate(63.62 0)"/>
<use href="#DejaVuSans-30" transform="translate(127.24 0)"/>
</g>
</g>
</g>
<g id="xtick_18">
<g id="line2d_47">
<g>
<use href="#m1504cfccaf" x="2205.54" y="404.28" style="stroke: #000000; stroke-width: 0.8"/>
</g>
</g>
<g id="text_34" style="transform-box:fill-box;transform-origin:50% 100%;transform:scale(0.978,0.955)">
<!-- 200 -->
<g transform="translate(2195.99 418.87) scale(0.1 -0.1)">
<use href="#DejaVuSans-32"/>
<use href="#DejaVuSans-30" transform="translate(63.62 0)"/>
<use href="#DejaVuSans-30" transform="translate(127.24 0)"/>
</g>
</g>
</g>
<g id="xtick_19">
<g id="line2d_48">
<g>
<use href="#m1504cfccaf" x="2308.77" y="404.28" style="stroke: #000000; stroke-width: 0.8"/>
</g>
</g>
<g id="text_35" style="transform-box:fill-box;transform-origin:50% 100%;transform:scale(0.978,0.955)">
<!-- 300 -->
<g transform="translate(2299.22 418.87) scale(0.1 -0.1)">
<use href="#DejaVuSans-33"/>
<use href="#DejaVuSans-30" transform="translate(63.62 0)"/>
<use href="#DejaVuSans-30" transform="translate(127.24 0)"/>
</g>
</g>
</g>
<g id="xtick_20">
<g id="line2d_49">
<g>
<use href="#m1504cfccaf" x="2412.00" y="404.28" style="stroke: #000000; stroke-width: 0.8"/>
</g>
</g>
<g id="text_36" style="transform-box:fill-box;transform-origin:50% 100%;transform:scale(0.978,0.955)">
<!-- 400 -->
<g transform="translate(2402.45 418.87) scale(0.1 -0.1)">
<use href="#DejaVuSans-34"/>
<use href="#DejaVuSans-30" transform="translate(63.62 0)"/>
<use href="#DejaVuSans-30" transform="translate(127.24 0)"/>
</g>
</g>
</g>
<g id="xtick_21">
<g id="line2d_50">
<g>
<use href="#m1504cfccaf" x="2515.23" y="404.28" style="stroke: #000000; stroke-width: 0.8"/>
</g>
</g>
<g id="text_37" style="transform-box:fill-box;transform-origin:50% 100%;transform:scale(0.978,0.955)">
<!-- 500 -->
<g transform="translate(2505.68 418.87) scale(0.1 -0.1)">
<use href="#DejaVuSans-35"/>
<use href="#DejaVuSans-30" transform="translate(63.62 0)"/>
<use href="#DejaVuSans-30" transform="translate(127.24 0)"/>
</g>
</g>
</g>
<g id="xtick_22">
<g id="line2d_51">
<g>
<use href="#m1504cfccaf" x="2618.46" y="404.28" style="stroke: #000000; stroke-width: 0.8"/>
</g>
</g>
<g id="text_38" style="transform-box:fill-box;transform-origin:50% 100%;transform:scale(0.978,0.955)">
<!-- 600 -->
<g transform="translate(2608.91 418.87) scale(0.1 -0.1)">
<use href="#DejaVuSans-36"/>
<use href="#DejaVuSans-30" transform="translate(63.62 0)"/>
<use href="#DejaVuSans-30" transform="translate(127.24 0)"/>
</g>
</g>
</g>
<g id="xtick_23">
<g id="line2d_52">
<g>
<use href="#m1504cfccaf" x="2721.69" y="404.28" style="stroke: #000000; stroke-width: 0.8"/>
</g>
</g>
<g id="text_39" style="transform-box:fill-box;transform-origin:50% 100%;transform:scale(0.978,0.955)">
<!-- 700 -->
<g transform="translate(2712.14 418.87) scale(0.1 -0.1)">
<defs>
<path id="DejaVuSans-37" d="M 525 4666 
L 3525 4666 
L 3525 4397 
L 1831 0 
L 1172 0 
L 2766 4134 
L 525 4134 
L 525 4666 
z
" transform="scale(0.015625)"/>
</defs>
<use href="#DejaVuSans-37"/>
<use href="#DejaVuSans-30" transform="translate(63.62 0)"/>
<use href="#DejaVuSans-30" transform="translate(127.24 0)"/>
</g>
</g>
</g>
<g id="xtick_24">
<g id="line2d_53">
<g>
<use href="#m1504cfccaf" x="2824.92" y="404.28" style="stroke: #000000; stroke-width: 0.8"/>
</g>
</g>
<g id="text_40" style="transform-box:fill-box;transform-origin:50% 100%;transform:scale(0.978,0.955)">
<!-- 800 -->
<g transform="translate(2815.37 418.87) scale(0.1 -0.1)">
<defs>
<path id="DejaVuSans-38" d="M 2034 2216 
Q 1584 2216 1326 1975 
Q 1069 1734 1069 1313 
Q 1069 891 1326 650 
Q 1584 409 2034 409 
Q 2484 409 2743 651 
Q 3003 894 3003 1313 
Q 3003 1734 2745 1975 
Q 2488 2216 2034 2216 
z
M 1403 2484 
Q 997 2584 770 2862 
Q 544 3141 544 3541 
Q 544 4100 942 4425 
Q 1341 4750 2034 4750 
Q 2731 4750 3128 4425 
Q 3525 4100 3525 3541 
Q 3525 3141 3298 2862 
Q 3072 2584 2669 2484 
Q 3125 2378 3379 2068 
Q 3634 1759 3634 1313 
Q 3634 634 3220 271 
Q 2806 -91 2034 -91 
Q 1263 -91 848 271 
Q 434 634 434 1313 
Q 434 1759 690 2068 
Q 947 2378 1403 2484 
z
M 1172 3481 
Q 1172 3119 1398 2916 
Q 1625 2713 2034 2713 
Q 2441 2713 2670 2916 
Q 2900 3119 2900 3481 
Q 2900 3844 2670 4047 
Q 2441 4250 2034 4250 
Q 1625 4250 1398 4047 
Q 1172 3844 1172 3481 
z
" transform="scale(0.015625)"/>
</defs>
<use href="#DejaVuSans-38"/>
<use href="#DejaVuSans-30" transform="translate(63.62 0)"/>
<use href="#DejaVuSans-30" transform="translate(127.24 0)"/>
</g>
</g>
</g>
</g>
<g id="matplotlib.axis_8">
<g id="ytick_28">
<g id="line2d_54">
<g>
<use href="#m5d545ce8f8" x="1958.04" y="383.40" style="stroke: #000000; stroke-width: 0.8"/>
</g>
</g>
<g id="text_41" style="transform-box:fill-box;transform-origin:100% 100%;transform:scale(0.978,0.955)">
<!-- 0.6 -->
<g transform="translate(1935.13 387.20) scale(0.1 -0.1)">
<use href="#DejaVuSans-30"/>
<use href="#DejaVuSans-2e" transform="translate(63.62 0)"/>
<use href="#DejaVuSans-36" transform="translate(95.41 0)"/>
</g>
</g>
</g>
<g id="ytick_29">
<g id="line2d_55">
<g>
<use href="#m5d545ce8f8" x="1958.04" y="335.46" style="stroke: #000000; stroke-width: 0.8"/>
</g>
</g>
<g id="text_42" style="transform-box:fill-box;transform-origin:100% 100%;transform:scale(0.978,0.955)">
<!-- 0.8 -->
<g transform="translate(1935.13 339.26) scale(0.1 -0.1)">
<use href="#DejaVuSans-30"/>
<use href="#DejaVuSans-2e" transform="translate(63.62 0)"/>
<use href="#DejaVuSans-38" transform="translate(95.41 0)"/>
</g>
</g>
</g>
<g id="ytick_30">
<g id="line2d_56">
<g>
<use href="#m5d545ce8f8" x="1958.04" y="287.53" style="stroke: #000000; stroke-width: 0.8"/>
</g>
</g>
<g id="text_43" style="transform-box:fill-box;transform-origin:100% 100%;transform:scale(0.978,0.955)">
<!-- 1.0 -->
<g transform="translate(1935.13 291.33) scale(0.1 -0.1)">
<use href="#DejaVuSans-31"/>
<use href="#DejaVuSans-2e" transform="translate(63.62 0)"/>
<use href="#DejaVuSans-30" transform="translate(95.41 0)"/>
</g>
</g>
</g>
<g id="ytick_31">
<g id="line2d_57">
<g>
<use href="#m5d545ce8f8" x="1958.04" y="239.60" style="stroke: #000000; stroke-width: 0.8"/>
</g>
</g>
<g id="text_44" style="transform-box:fill-box;transform-origin:100% 100%;transform:scale(0.978,0.955)">
<!-- 1.2 -->
<g transform="translate(1935.13 243.40) scale(0.1 -0.1)">
<use href="#DejaVuSans-31"/>
<use href="#DejaVuSans-2e" transform="translate(63.62 0)"/>
<use href="#DejaVuSans-32" transform="translate(95.41 0)"/>
</g>
</g>
</g>
<g id="ytick_32">
<g id="line2d_58">
<g>
<use href="#m5d545ce8f8" x="1958.04" y="191.67" style="stroke: #000000; stroke-width: 0.8"/>
</g>
</g>
<g id="text_45" style="transform-box:fill-box;transform-origin:100% 100%;transform:scale(0.978,0.955)">
<!-- 1.4 -->
<g transform="translate(1935.13 195.47) scale(0.1 -0.1)">
<use href="#DejaVuSans-31"/>
<use href="#DejaVuSans-2e" transform="translate(63.62 0)"/>
<use href="#DejaVuSans-34" transform="translate(95.41 0)"/>
</g>
</g>
</g>
<g id="ytick_33">
<g id="line2d_59">
<g>
<use href="#m5d545ce8f8" x="1958.04" y="143.74" style="stroke: #000000; stroke-width: 0.8"/>
</g>
</g>
<g id="text_46" style="transform-box:fill-box;transform-origin:100% 100%;transform:scale(0.978,0.955)">
<!-- 1.6 -->
<g transform="translate(1935.13 147.54) scale(0.1 -0.1)">
<use href="#DejaVuSans-31"/>
<use href="#DejaVuSans-2e" transform="translate(63.62 0)"/>
<use href="#DejaVuSans-36" transform="translate(95.41 0)"/>
</g>
</g>
</g>
<g id="ytick_34">
<g id="line2d_60">
<g>
<use href="#m5d545ce8f8" x="1958.04" y="95.81" style="stroke: #000000; stroke-width: 0.8"/>
</g>
</g>
<g id="text_47" style="transform-box:fill-box;transform-origin:100% 100%;transform:scale(0.978,0.955)">
<!-- 1.8 -->
<g transform="translate(1935.13 99.60) scale(0.1 -0.1)">
<use href="#DejaVuSans-31"/>
<use href="#DejaVuSans-2e" transform="translate(63.62 0)"/>
<use href="#DejaVuSans-38" transform="translate(95.41 0)"/>
</g>
</g>
</g>
<g id="ytick_35">
<g id="line2d_61">
<g>
<use href="#m5d545ce8f8" x="1958.04" y="47.87" style="stroke: #000000; stroke-width: 0.8"/>
</g>
</g>
<g id="text_48" style="transform-box:fill-box;transform-origin:100% 100%;transform:scale(0.978,0.955)">
<!-- 2.0 -->
<g transform="translate(1935.13 51.67) scale(0.1 -0.1)">
<use href="#DejaVuSans-32"/>
<use href="#DejaVuSans-2e" transform="translate(63.62 0)"/>
<use href="#DejaVuSans-30" transform="translate(95.41 0)"/>
</g>
</g>
</g>
<g id="text_49" style="transform-box:fill-box;transform-origin:0% 100%;transform:scale(0.978,0.955)">
<!-- 1e12 -->
<g transform="translate(1958.04 18.96) scale(0.1 -0.1)">
<use href="#DejaVuSans-31"/>
<use href="#DejaVuSans-65" transform="translate(63.62 0)"/>
<use href="#DejaVuSans-31" transform="translate(125.14 0)"/>
<use href="#DejaVuSans-32" transform="translate(188.76 0)"/>
</g>
</g>
</g>
<g id="line2d_62">
<path d="M 1998.86 234.14 
L 1999.99 275.27 
L 2001.67 122.25 
L 2004.65 244.50 
L 2006.52 243.56 
L 2007.86 163.07 
L 2010.72 257.55 
L 2012.12 311.18 
L 2013.98 256.62 
L 2015.38 318.18 
L 2016.78 278.54 
L 2018.64 299.52 
L 2020.10 85.89 
L 2023.31 348.49 
L 2025.64 285.53 
L 2027.50 264.55 
L 2028.90 322.84 
L 2030.77 357.81 
L 2032.63 327.50 
L 2034.50 320.51 
L 2036.36 353.15 
L 2039.18 228.02 
L 2041.03 347.65 
L 2042.52 328.99 
L 2044.39 284.23 
L 2045.88 347.65 
L 2047.00 325.26 
L 2048.49 345.78 
L 2050.35 360.70 
L 2052.22 332.73 
L 2054.08 326.38 
L 2055.95 299.15 
L 2057.44 321.53 
L 2058.93 285.35 
L 2060.43 321.53 
L 2061.92 324.14 
L 2063.41 336.46 
L 2064.90 299.15 
L 2066.40 336.46 
L 2067.89 318.92 
L 2069.38 327.13 
L 2071.25 306.61 
L 2073.11 314.07 
L 2074.23 328.99 
L 2075.35 351.38 
L 2076.84 335.34 
L 2078.33 339.07 
L 2079.83 339.07 
L 2081.32 318.92 
L 2082.44 350.63 
L 2083.56 314.07 
L 2085.05 335.34 
L 2086.91 335.34 
L 2088.78 306.61 
L 2090.27 357.72 
L 2091.76 333.84 
L 2092.88 349.51 
L 2094.00 343.17 
L 2095.12 320.41 
L 2095.94 323.40 
L 2097.06 356.97 
L 2098.18 320.41 
L 2099.30 358.84 
L 2100.05 315.94 
L 2101.16 356.97 
L 2102.28 327.13 
L 2103.03 330.86 
L 2104.15 368.17 
L 2105.27 345.78 
L 2106.39 349.51 
L 2107.51 328.99 
L 2109.00 353.24 
L 2110.12 336.46 
L 2111.24 347.65 
L 2112.36 362.57 
L 2113.48 338.32 
L 2114.59 360.70 
L 2115.71 349.51 
L 2116.83 345.78 
L 2117.95 358.84 
L 2119.07 342.05 
L 2120.19 353.24 
L 2121.31 340.19 
L 2122.43 343.92 
L 2123.55 366.30 
L 2125.04 336.46 
L 2126.53 360.70 
L 2127.65 371.90 
L 2128.77 364.44 
L 2130.26 356.97 
L 2132.13 306.61 
L 2133.25 347.65 
L 2134.74 345.78 
L 2136.23 325.26 
L 2137.72 328.99 
L 2139.22 358.84 
L 2140.71 345.78 
L 2141.83 297.28 
L 2142.95 312.21 
L 2144.07 299.15 
L 2145.38 230.04 
L 2146.68 312.21 
L 2147.80 358.84 
L 2149.29 319.67 
L 2150.41 304.75 
L 2151.53 323.40 
L 2152.65 302.88 
L 2153.77 353.24 
L 2154.88 338.32 
L 2156.00 356.97 
L 2157.12 377.49 
L 2158.62 327.13 
L 2159.73 301.02 
L 2161.23 274.90 
L 2162.35 299.15 
L 2163.47 299.15 
L 2164.58 330.86 
L 2166.08 368.17 
L 2167.20 345.78 
L 2168.32 302.88 
L 2169.43 317.80 
L 2170.55 334.59 
L 2171.67 353.24 
L 2172.79 327.13 
L 2173.91 338.32 
L 2175.03 317.80 
L 2176.15 336.46 
L 2177.27 321.53 
L 2178.39 308.48 
L 2181.00 286.09 
L 2182.12 299.15 
L 2183.24 327.13 
L 2184.36 342.05 
L 2185.48 310.34 
L 2186.59 289.82 
L 2187.71 299.15 
L 2188.83 315.94 
L 2189.95 306.61 
L 2191.07 323.40 
L 2192.19 306.61 
L 2193.31 314.07 
L 2194.77 217.08 
L 2195.92 319.67 
L 2197.12 358.84 
L 2198.61 287.96 
L 2199.73 289.82 
L 2200.85 319.67 
L 2201.96 338.32 
L 2203.08 336.46 
L 2204.20 327.13 
L 2205.32 334.59 
L 2206.44 317.80 
L 2207.56 302.88 
L 2208.68 328.99 
L 2210.17 295.42 
L 2211.29 323.40 
L 2212.41 332.73 
L 2213.53 332.73 
L 2214.65 334.59 
L 2215.77 347.65 
L 2216.89 338.32 
L 2218.01 342.05 
L 2219.13 312.21 
L 2220.24 291.69 
L 2221.36 323.40 
L 2222.48 295.42 
L 2223.60 302.88 
L 2224.94 231.55 
L 2226.96 314.07 
L 2228.11 162.57 
L 2229.20 297.28 
L 2230.32 274.90 
L 2231.44 293.55 
L 2232.56 306.61 
L 2233.67 314.07 
L 2235.17 278.63 
L 2236.29 317.80 
L 2237.78 319.67 
L 2238.90 267.44 
L 2240.02 312.21 
L 2241.14 258.11 
L 2242.26 321.53 
L 2243.37 271.17 
L 2244.49 321.53 
L 2245.61 261.84 
L 2246.73 304.75 
L 2247.85 317.80 
L 2248.97 302.88 
L 2250.09 317.80 
L 2251.21 353.24 
L 2252.23 238.60 
L 2253.82 356.97 
L 2254.94 317.80 
L 2256.06 325.26 
L 2257.18 293.55 
L 2258.67 325.26 
L 2259.79 271.17 
L 2261.01 221.40 
L 2262.74 184.96 
L 2263.52 273.04 
L 2264.64 312.21 
L 2265.76 278.63 
L 2266.88 310.34 
L 2268.00 312.21 
L 2269.12 315.94 
L 2270.23 291.69 
L 2271.35 278.63 
L 2272.47 248.79 
L 2273.59 274.90 
L 2274.71 340.19 
L 2275.83 274.90 
L 2276.95 304.75 
L 2278.08 218.23 
L 2279.19 345.78 
L 2280.31 263.71 
L 2281.46 201.02 
L 2282.55 291.69 
L 2283.66 259.98 
L 2284.78 246.92 
L 2285.71 242.56 
L 2287.02 273.04 
L 2288.14 291.69 
L 2289.26 263.71 
L 2290.38 261.84 
L 2291.50 312.21 
L 2292.62 327.13 
L 2293.84 227.66 
L 2294.86 278.63 
L 2295.98 310.34 
L 2296.80 274.90 
L 2297.92 269.31 
L 2299.03 276.77 
L 2300.15 312.21 
L 2301.27 342.05 
L 2302.39 349.51 
L 2304.63 312.21 
L 2305.75 334.59 
L 2306.87 289.82 
L 2307.99 273.04 
L 2309.11 271.17 
L 2310.23 258.11 
L 2310.97 295.42 
L 2311.63 220.75 
L 2313.58 338.32 
L 2314.70 323.40 
L 2315.82 327.13 
L 2316.94 336.46 
L 2318.06 315.94 
L 2319.18 334.59 
L 2320.30 278.63 
L 2321.42 252.52 
L 2322.54 301.02 
L 2323.66 315.94 
L 2324.78 291.69 
L 2325.89 287.96 
L 2326.82 240.04 
L 2328.13 304.75 
L 2329.25 310.34 
L 2330.37 302.88 
L 2331.49 342.05 
L 2332.61 295.42 
L 2333.73 312.21 
L 2334.85 325.26 
L 2335.97 342.05 
L 2337.09 310.34 
L 2338.21 312.21 
L 2339.32 263.71 
L 2340.44 271.17 
L 2341.56 280.50 
L 2342.68 297.28 
L 2343.80 315.94 
L 2344.92 258.11 
L 2346.04 327.13 
L 2347.16 271.17 
L 2348.28 317.80 
L 2349.40 308.48 
L 2350.52 332.73 
L 2351.64 302.88 
L 2352.76 327.13 
L 2353.87 312.21 
L 2354.99 315.94 
L 2356.11 340.19 
L 2357.23 327.13 
L 2358.35 299.15 
L 2359.47 332.73 
L 2360.59 334.59 
L 2361.71 349.51 
L 2362.83 319.67 
L 2363.95 299.15 
L 2365.07 347.65 
L 2366.19 321.53 
L 2367.21 210.88 
L 2368.42 315.94 
L 2369.54 334.59 
L 2370.66 336.46 
L 2371.78 355.11 
L 2372.90 330.86 
L 2374.02 334.59 
L 2375.14 304.75 
L 2376.26 286.09 
L 2377.38 280.50 
L 2378.50 284.23 
L 2379.62 291.69 
L 2381.85 321.53 
L 2382.97 325.26 
L 2384.09 332.73 
L 2385.21 336.46 
L 2386.33 356.97 
L 2387.45 345.78 
L 2388.57 327.13 
L 2389.69 338.32 
L 2390.81 336.46 
L 2391.93 315.94 
L 2393.05 284.23 
L 2394.16 314.07 
L 2395.28 278.63 
L 2396.40 317.80 
L 2397.52 308.48 
L 2397.60 295.42 
L 2398.72 343.92 
L 2399.84 302.88 
L 2400.95 345.78 
L 2402.07 338.32 
L 2403.19 349.51 
L 2404.31 343.92 
L 2405.43 356.97 
L 2406.55 289.82 
L 2407.67 345.78 
L 2408.79 332.73 
L 2409.91 353.24 
L 2411.03 332.73 
L 2412.15 302.88 
L 2413.27 356.97 
L 2414.38 323.40 
L 2415.50 293.55 
L 2416.62 282.36 
L 2417.74 325.26 
L 2418.86 299.15 
L 2419.98 284.23 
L 2421.10 327.13 
L 2422.22 349.51 
L 2423.34 364.44 
L 2424.46 338.32 
L 2425.58 306.61 
L 2426.70 323.40 
L 2427.81 317.80 
L 2428.93 321.53 
L 2430.05 302.88 
L 2431.17 271.17 
L 2432.29 349.51 
L 2433.41 330.86 
L 2434.53 353.24 
L 2435.65 317.80 
L 2437.89 340.19 
L 2439.01 340.19 
L 2440.13 338.32 
L 2441.24 343.92 
L 2442.36 356.97 
L 2443.48 336.46 
L 2444.60 323.40 
L 2445.72 286.09 
L 2446.84 259.98 
L 2447.85 227.52 
L 2449.08 323.40 
L 2450.20 332.73 
L 2451.32 334.59 
L 2452.44 351.38 
L 2453.56 343.92 
L 2454.67 338.32 
L 2455.79 342.05 
L 2456.91 306.61 
L 2458.03 252.52 
L 2459.15 349.51 
L 2460.27 347.65 
L 2461.39 353.24 
L 2462.51 343.92 
L 2463.63 345.78 
L 2464.75 349.51 
L 2465.87 342.05 
L 2466.99 310.34 
L 2468.10 334.59 
L 2469.22 336.46 
L 2470.34 330.86 
L 2471.46 315.94 
L 2472.58 278.63 
L 2473.70 327.13 
L 2477.06 349.51 
L 2478.18 358.84 
L 2479.30 349.51 
L 2480.42 342.05 
L 2481.53 327.13 
L 2482.65 299.15 
L 2483.77 297.28 
L 2486.01 345.78 
L 2487.13 343.92 
L 2488.25 338.32 
L 2489.37 314.07 
L 2490.49 269.31 
L 2491.34 220.75 
L 2492.73 286.09 
L 2493.85 312.21 
L 2494.96 325.26 
L 2496.08 297.28 
L 2497.20 302.88 
L 2498.40 312.21 
L 2499.52 323.40 
L 2500.64 306.61 
L 2501.75 338.32 
L 2502.87 349.51 
L 2503.99 340.19 
L 2505.11 338.32 
L 2506.23 360.70 
L 2507.35 297.28 
L 2508.47 256.25 
L 2510.71 310.34 
L 2511.83 301.02 
L 2512.95 306.61 
L 2514.07 328.99 
L 2515.18 356.97 
L 2516.30 336.46 
L 2517.42 332.73 
L 2518.54 358.84 
L 2519.66 327.13 
L 2520.78 343.92 
L 2521.90 332.73 
L 2523.02 338.32 
L 2524.14 317.80 
L 2526.38 306.61 
L 2527.50 304.75 
L 2528.61 291.69 
L 2529.73 340.19 
L 2530.85 319.67 
L 2531.97 282.36 
L 2533.09 332.73 
L 2534.21 353.24 
L 2535.33 312.21 
L 2536.45 310.34 
L 2538.69 364.44 
L 2539.81 312.21 
L 2540.93 265.57 
L 2542.04 338.32 
L 2543.16 325.26 
L 2544.28 323.40 
L 2545.40 358.84 
L 2546.52 297.28 
L 2547.64 265.57 
L 2548.76 276.77 
L 2549.88 321.53 
L 2551.00 301.02 
L 2552.12 315.94 
L 2553.24 310.34 
L 2554.36 340.19 
L 2555.47 330.86 
L 2556.59 336.46 
L 2557.71 317.80 
L 2558.83 315.94 
L 2559.95 334.59 
L 2561.07 332.73 
L 2562.19 347.65 
L 2563.31 323.40 
L 2564.43 334.59 
L 2565.55 321.53 
L 2566.67 338.32 
L 2567.79 338.32 
L 2568.91 340.19 
L 2570.02 338.32 
L 2571.14 349.51 
L 2572.26 345.78 
L 2573.38 371.90 
L 2574.50 349.51 
L 2575.62 336.46 
L 2576.74 325.26 
L 2577.86 364.44 
L 2580.10 306.61 
L 2581.22 312.21 
L 2582.34 293.55 
L 2583.45 332.73 
L 2584.57 330.86 
L 2585.69 347.65 
L 2586.81 323.40 
L 2587.93 325.26 
L 2589.05 334.59 
L 2590.17 345.78 
L 2591.29 295.42 
L 2592.41 293.55 
L 2593.53 295.42 
L 2594.65 286.09 
L 2595.77 291.69 
L 2596.88 286.09 
L 2598.00 317.80 
L 2599.12 338.32 
L 2599.20 325.31 
L 2600.54 282.74 
L 2601.89 278.25 
L 2603.23 320.83 
L 2604.57 311.86 
L 2605.92 334.27 
L 2607.26 358.92 
L 2608.61 332.03 
L 2609.95 296.18 
L 2611.30 271.53 
L 2612.64 329.79 
L 2613.99 300.66 
L 2615.33 334.27 
L 2616.67 314.10 
L 2618.02 332.03 
L 2619.36 340.99 
L 2620.71 284.98 
L 2622.05 349.95 
L 2623.40 298.42 
L 2624.74 316.35 
L 2626.08 345.47 
L 2627.43 325.31 
L 2628.77 318.59 
L 2630.12 310.97 
L 2631.46 356.68 
L 2632.81 358.92 
L 2634.15 311.86 
L 2635.50 338.75 
L 2636.84 338.75 
L 2638.18 352.20 
L 2639.53 361.16 
L 2640.87 365.64 
L 2642.22 347.71 
L 2643.56 338.75 
L 2644.91 340.99 
L 2646.25 349.95 
L 2647.59 332.03 
L 2648.94 298.42 
L 2650.28 343.23 
L 2651.63 320.83 
L 2652.97 305.14 
L 2654.32 334.27 
L 2655.66 332.03 
L 2657.01 316.35 
L 2658.35 340.99 
L 2659.69 314.10 
L 2661.04 338.75 
L 2662.38 349.95 
L 2663.73 316.35 
L 2665.07 269.29 
L 2666.42 318.59 
L 2667.76 258.09 
L 2670.45 262.57 
L 2671.79 300.66 
L 2673.14 293.94 
L 2674.48 327.55 
L 2675.83 311.86 
L 2677.17 284.98 
L 2678.52 269.29 
L 2681.20 251.37 
L 2682.55 249.13 
L 2683.89 251.37 
L 2687.93 237.92 
L 2689.27 298.42 
L 2690.61 316.35 
L 2691.96 267.05 
L 2693.30 291.70 
L 2694.65 293.94 
L 2695.99 334.27 
L 2697.34 323.07 
L 2698.68 356.68 
L 2701.34 305.14 
L 2702.69 314.10 
L 2704.03 332.03 
L 2705.38 347.71 
L 2706.72 329.79 
L 2708.06 316.35 
L 2709.41 323.07 
L 2710.75 356.68 
L 2712.10 343.23 
L 2713.44 354.44 
L 2714.79 345.47 
L 2716.13 334.27 
L 2717.47 343.23 
L 2718.82 361.16 
L 2720.16 329.79 
L 2721.51 323.07 
L 2722.85 343.23 
L 2724.20 354.44 
L 2725.54 347.71 
L 2726.89 381.32 
L 2728.23 356.68 
L 2729.57 316.35 
L 2730.92 325.31 
L 2732.26 356.68 
L 2733.61 374.60 
L 2734.95 347.71 
L 2736.30 363.40 
L 2737.64 352.20 
L 2738.98 354.44 
L 2740.33 349.95 
L 2741.67 338.75 
L 2743.02 282.74 
L 2744.36 280.50 
L 2745.71 316.35 
L 2747.05 345.47 
L 2748.40 320.83 
L 2749.74 287.22 
L 2751.08 354.44 
L 2752.43 338.75 
L 2753.77 352.20 
L 2755.12 347.71 
L 2756.46 354.44 
L 2758.17 203.54 
L 2759.15 271.53 
L 2760.49 320.83 
L 2761.84 347.71 
L 2763.18 358.92 
L 2764.53 367.88 
L 2765.87 329.79 
L 2767.22 343.23 
L 2768.56 302.90 
L 2769.91 276.01 
L 2771.25 262.57 
L 2773.73 59.39 
L 2775.28 361.16 
L 2776.63 343.23 
L 2777.97 363.40 
L 2779.32 347.71 
L 2780.66 358.92 
L 2782.00 338.75 
L 2783.35 343.23 
L 2784.69 323.07 
L 2786.04 334.27 
L 2787.38 302.90 
L 2788.73 298.42 
L 2791.42 356.68 
L 2792.76 323.07 
L 2794.10 332.03 
L 2795.45 343.23 
L 2796.79 311.86 
L 2798.35 307.22 
L 2800.37 275.90 
L 2802.67 161.99 
L 2805.05 234.79 
L 2806.63 226.94 
L 2808.14 297.43 
L 2811.31 98.49 
L 2812.10 293.54 
L 2813.69 248.47 
L 2814.41 293.54 
L 2815.99 106.34 
L 2817.57 225.00 
L 2819.16 248.47 
L 2822.69 38.59 
L 2823.98 169.91 
L 2825.42 111.09 
L 2826.93 238.68 
L 2827.87 179.99 
L 2827.87 179.99 
" clip-path="url(#p5847a263bd)" style="fill: none; stroke: #1f77b4; stroke-width: 1.5; stroke-linecap: square"/>
</g>
<g id="patch_10">
<path d="M 1958.04 404.28 
L 1958.04 21.96 
" style="fill: none; stroke: #000000; stroke-width: 0.8; stroke-linejoin: miter; stroke-linecap: square"/>
</g>
<g id="patch_11">
<path d="M 2869.56 404.28 
L 2869.56 21.96 
" style="fill: none; stroke: #000000; stroke-width: 0.8; stroke-linejoin: miter; stroke-linecap: square"/>
</g>
<g id="patch_12">
<path d="M 1958.04 404.28 
L 2869.56 404.28 
" style="fill: none; stroke: #000000; stroke-width: 0.8; stroke-linejoin: miter; stroke-linecap: square"/>
</g>
<g id="patch_13">
<path d="M 1958.04 21.96 
L 2869.56 21.96 
" style="fill: none; stroke: #000000; stroke-width: 0.8; stroke-linejoin: miter; stroke-linecap: square"/>
</g>
</g>
</g>
<defs>
<clipPath id="pa6156884ae">
<rect x="1012.68" y="21.96" width="911.52" height="382.32"/>
</clipPath>
<clipPath id="p5847a263bd">
<rect x="1958.04" y="21.96" width="911.52" height="382.32"/>
</clipPath>
</defs>
</svg>

</div>
</body></html>
